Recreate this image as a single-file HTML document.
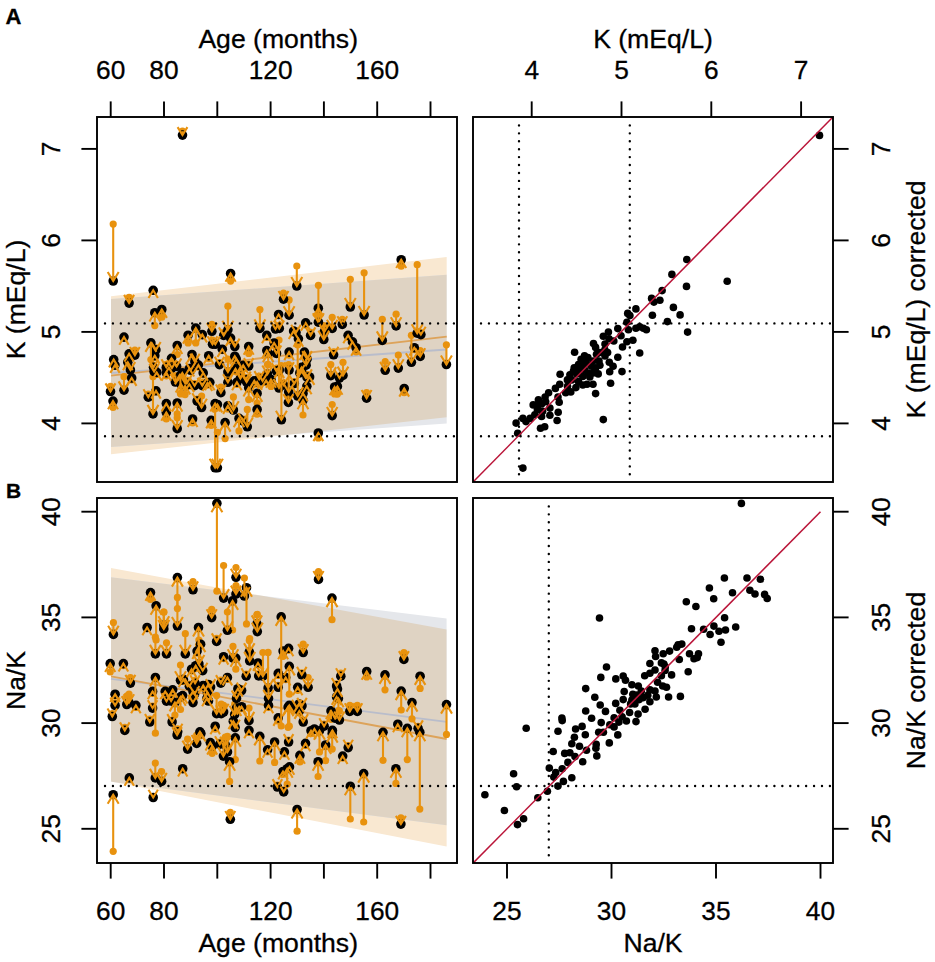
<!DOCTYPE html>
<html><head><meta charset="utf-8"><style>
html,body{margin:0;padding:0;background:#fff;width:935px;height:962px;overflow:hidden}
svg{display:block}
text{font-family:"Liberation Sans",sans-serif;fill:#000;stroke:#000;stroke-width:0.3px}
</style></head><body>
<svg width="935" height="962" viewBox="0 0 935 962"><defs><clipPath id="cAL"><rect x="97" y="117" width="360" height="365"/></clipPath><clipPath id="cAR"><rect x="473" y="117" width="360" height="365"/></clipPath><clipPath id="cBL"><rect x="97" y="498" width="360" height="365"/></clipPath><clipPath id="cBR"><rect x="473" y="498" width="360" height="365"/></clipPath></defs>
<clipPath id="bA"><polygon points="111.0,296.2 446.7,257.1 446.7,417.3 111.0,454.2"/></clipPath><polygon points="111.0,296.2 446.7,257.1 446.7,417.3 111.0,454.2" fill="#F9E8D1"/><polygon points="111.0,298.9 446.7,274.8 446.7,423.4 111.0,447.0" fill="#E5E7EB"/><polygon points="111.0,298.9 446.7,274.8 446.7,423.4 111.0,447.0" fill="#DFD3C3" clip-path="url(#bA)"/><clipPath id="bB"><polygon points="111.0,568.1 446.6,629.5 446.6,846.6 111.0,781.5"/></clipPath><polygon points="111.0,568.1 446.6,629.5 446.6,846.6 111.0,781.5" fill="#F9E8D1"/><polygon points="111.0,577.2 446.6,618.4 446.6,825.2 111.0,781.7" fill="#E5E7EB"/><polygon points="111.0,577.2 446.6,618.4 446.6,825.2 111.0,781.7" fill="#DFD3C3" clip-path="url(#bB)"/><line x1="111.0" y1="373.0" x2="446.7" y2="349.5" stroke="#B9BDCB" stroke-width="1.8"/><line x1="111.0" y1="375.6" x2="446.7" y2="336.7" stroke="#DDA35A" stroke-width="1.8"/><line x1="111.0" y1="678.8" x2="446.6" y2="721.8" stroke="#B9BDCB" stroke-width="1.8"/><line x1="111.0" y1="676.3" x2="446.6" y2="739.0" stroke="#DDA35A" stroke-width="1.8"/><g clip-path="url(#cAL)"><circle cx="182.5" cy="131.2" r="3.6" fill="#E8920E"/><circle cx="113.2" cy="224.1" r="3.6" fill="#E8920E"/><circle cx="230.6" cy="281.1" r="3.6" fill="#E8920E"/><circle cx="296.8" cy="266.0" r="3.6" fill="#E8920E"/><circle cx="401.2" cy="266.2" r="3.6" fill="#E8920E"/><circle cx="318.4" cy="285.3" r="3.6" fill="#E8920E"/><circle cx="350.3" cy="279.3" r="3.6" fill="#E8920E"/><circle cx="364.1" cy="272.8" r="3.6" fill="#E8920E"/><circle cx="417.2" cy="264.7" r="3.6" fill="#E8920E"/><circle cx="129.1" cy="297.3" r="3.6" fill="#E8920E"/><circle cx="153.2" cy="290.8" r="3.6" fill="#E8920E"/><circle cx="154.8" cy="325.6" r="3.6" fill="#E8920E"/><circle cx="161.8" cy="317.2" r="3.6" fill="#E8920E"/><circle cx="124.0" cy="337.6" r="3.6" fill="#E8920E"/><circle cx="150.9" cy="359.6" r="3.6" fill="#E8920E"/><circle cx="154.8" cy="357.7" r="3.6" fill="#E8920E"/><circle cx="153.5" cy="365.3" r="3.6" fill="#E8920E"/><circle cx="156.7" cy="374.4" r="3.6" fill="#E8920E"/><circle cx="113.7" cy="360.6" r="3.6" fill="#E8920E"/><circle cx="129.1" cy="354.8" r="3.6" fill="#E8920E"/><circle cx="134.9" cy="350.0" r="3.6" fill="#E8920E"/><circle cx="127.8" cy="365.2" r="3.6" fill="#E8920E"/><circle cx="130.4" cy="367.9" r="3.6" fill="#E8920E"/><circle cx="177.2" cy="354.5" r="3.6" fill="#E8920E"/><circle cx="188.1" cy="342.9" r="3.6" fill="#E8920E"/><circle cx="195.8" cy="342.9" r="3.6" fill="#E8920E"/><circle cx="202.3" cy="335.6" r="3.6" fill="#E8920E"/><circle cx="211.9" cy="324.3" r="3.6" fill="#E8920E"/><circle cx="171.5" cy="362.3" r="3.6" fill="#E8920E"/><circle cx="192.0" cy="357.5" r="3.6" fill="#E8920E"/><circle cx="208.7" cy="358.7" r="3.6" fill="#E8920E"/><circle cx="166.3" cy="364.3" r="3.6" fill="#E8920E"/><circle cx="189.4" cy="370.6" r="3.6" fill="#E8920E"/><circle cx="212.5" cy="340.2" r="3.6" fill="#E8920E"/><circle cx="110.5" cy="386.3" r="3.6" fill="#E8920E"/><circle cx="113.0" cy="407.5" r="3.6" fill="#E8920E"/><circle cx="124.0" cy="376.7" r="3.6" fill="#E8920E"/><circle cx="131.7" cy="380.0" r="3.6" fill="#E8920E"/><circle cx="115.0" cy="366.1" r="3.6" fill="#E8920E"/><circle cx="154.1" cy="369.6" r="3.6" fill="#E8920E"/><circle cx="156.0" cy="391.8" r="3.6" fill="#E8920E"/><circle cx="153.0" cy="376.7" r="3.6" fill="#E8920E"/><circle cx="148.3" cy="394.2" r="3.6" fill="#E8920E"/><circle cx="166.3" cy="404.6" r="3.6" fill="#E8920E"/><circle cx="166.3" cy="419.0" r="3.6" fill="#E8920E"/><circle cx="177.2" cy="413.9" r="3.6" fill="#E8920E"/><circle cx="177.2" cy="417.8" r="3.6" fill="#E8920E"/><circle cx="192.6" cy="423.0" r="3.6" fill="#E8920E"/><circle cx="201.6" cy="396.0" r="3.6" fill="#E8920E"/><circle cx="197.1" cy="399.1" r="3.6" fill="#E8920E"/><circle cx="211.2" cy="425.5" r="3.6" fill="#E8920E"/><circle cx="215.1" cy="408.8" r="3.6" fill="#E8920E"/><circle cx="215.1" cy="405.6" r="3.6" fill="#E8920E"/><circle cx="168.9" cy="369.7" r="3.6" fill="#E8920E"/><circle cx="176.6" cy="364.4" r="3.6" fill="#E8920E"/><circle cx="180.4" cy="393.4" r="3.6" fill="#E8920E"/><circle cx="186.9" cy="380.1" r="3.6" fill="#E8920E"/><circle cx="194.6" cy="383.7" r="3.6" fill="#E8920E"/><circle cx="202.3" cy="382.7" r="3.6" fill="#E8920E"/><circle cx="207.4" cy="385.1" r="3.6" fill="#E8920E"/><circle cx="190.7" cy="368.3" r="3.6" fill="#E8920E"/><circle cx="198.4" cy="367.1" r="3.6" fill="#E8920E"/><circle cx="166.3" cy="375.8" r="3.6" fill="#E8920E"/><circle cx="227.9" cy="306.2" r="3.6" fill="#E8920E"/><circle cx="259.9" cy="309.6" r="3.6" fill="#E8920E"/><circle cx="283.5" cy="293.0" r="3.6" fill="#E8920E"/><circle cx="289.1" cy="299.9" r="3.6" fill="#E8920E"/><circle cx="278.6" cy="315.5" r="3.6" fill="#E8920E"/><circle cx="279.3" cy="325.4" r="3.6" fill="#E8920E"/><circle cx="318.3" cy="314.5" r="3.6" fill="#E8920E"/><circle cx="305.7" cy="324.9" r="3.6" fill="#E8920E"/><circle cx="310.6" cy="332.4" r="3.6" fill="#E8920E"/><circle cx="332.2" cy="317.3" r="3.6" fill="#E8920E"/><circle cx="323.8" cy="325.6" r="3.6" fill="#E8920E"/><circle cx="248.7" cy="353.4" r="3.6" fill="#E8920E"/><circle cx="266.8" cy="337.4" r="3.6" fill="#E8920E"/><circle cx="268.2" cy="364.6" r="3.6" fill="#E8920E"/><circle cx="276.5" cy="351.4" r="3.6" fill="#E8920E"/><circle cx="289.1" cy="355.1" r="3.6" fill="#E8920E"/><circle cx="296.0" cy="330.6" r="3.6" fill="#E8920E"/><circle cx="304.4" cy="354.1" r="3.6" fill="#E8920E"/><circle cx="234.8" cy="344.5" r="3.6" fill="#E8920E"/><circle cx="234.8" cy="358.2" r="3.6" fill="#E8920E"/><circle cx="223.7" cy="332.4" r="3.6" fill="#E8920E"/><circle cx="230.6" cy="341.1" r="3.6" fill="#E8920E"/><circle cx="219.5" cy="362.6" r="3.6" fill="#E8920E"/><circle cx="240.4" cy="370.4" r="3.6" fill="#E8920E"/><circle cx="248.7" cy="364.0" r="3.6" fill="#E8920E"/><circle cx="333.6" cy="351.8" r="3.6" fill="#E8920E"/><circle cx="279.3" cy="373.1" r="3.6" fill="#E8920E"/><circle cx="289.1" cy="367.1" r="3.6" fill="#E8920E"/><circle cx="301.6" cy="369.4" r="3.6" fill="#E8920E"/><circle cx="307.1" cy="357.0" r="3.6" fill="#E8920E"/><circle cx="227.9" cy="359.0" r="3.6" fill="#E8920E"/><circle cx="330.8" cy="364.6" r="3.6" fill="#E8920E"/><circle cx="217.4" cy="432.3" r="3.6" fill="#E8920E"/><circle cx="318.3" cy="437.9" r="3.6" fill="#E8920E"/><circle cx="281.4" cy="365.6" r="3.6" fill="#E8920E"/><circle cx="303.0" cy="415.0" r="3.6" fill="#E8920E"/><circle cx="288.4" cy="395.5" r="3.6" fill="#E8920E"/><circle cx="257.1" cy="414.2" r="3.6" fill="#E8920E"/><circle cx="257.1" cy="403.1" r="3.6" fill="#E8920E"/><circle cx="248.7" cy="399.6" r="3.6" fill="#E8920E"/><circle cx="225.1" cy="438.6" r="3.6" fill="#E8920E"/><circle cx="217.4" cy="406.5" r="3.6" fill="#E8920E"/><circle cx="227.9" cy="408.9" r="3.6" fill="#E8920E"/><circle cx="220.9" cy="387.1" r="3.6" fill="#E8920E"/><circle cx="247.3" cy="409.4" r="3.6" fill="#E8920E"/><circle cx="239.0" cy="430.9" r="3.6" fill="#E8920E"/><circle cx="233.4" cy="396.9" r="3.6" fill="#E8920E"/><circle cx="243.2" cy="419.2" r="3.6" fill="#E8920E"/><circle cx="303.0" cy="395.4" r="3.6" fill="#E8920E"/><circle cx="307.1" cy="374.4" r="3.6" fill="#E8920E"/><circle cx="301.6" cy="373.1" r="3.6" fill="#E8920E"/><circle cx="283.5" cy="383.0" r="3.6" fill="#E8920E"/><circle cx="271.0" cy="386.4" r="3.6" fill="#E8920E"/><circle cx="262.6" cy="378.9" r="3.6" fill="#E8920E"/><circle cx="254.3" cy="383.9" r="3.6" fill="#E8920E"/><circle cx="245.9" cy="377.5" r="3.6" fill="#E8920E"/><circle cx="236.9" cy="384.3" r="3.6" fill="#E8920E"/><circle cx="227.9" cy="379.3" r="3.6" fill="#E8920E"/><circle cx="276.5" cy="368.1" r="3.6" fill="#E8920E"/><circle cx="332.2" cy="404.5" r="3.6" fill="#E8920E"/><circle cx="209.8" cy="384.3" r="3.6" fill="#E8920E"/><circle cx="420.9" cy="332.6" r="3.6" fill="#E8920E"/><circle cx="342.3" cy="319.3" r="3.6" fill="#E8920E"/><circle cx="382.3" cy="319.3" r="3.6" fill="#E8920E"/><circle cx="396.1" cy="314.2" r="3.6" fill="#E8920E"/><circle cx="348.1" cy="337.3" r="3.6" fill="#E8920E"/><circle cx="356.1" cy="352.0" r="3.6" fill="#E8920E"/><circle cx="352.5" cy="343.9" r="3.6" fill="#E8920E"/><circle cx="385.2" cy="361.5" r="3.6" fill="#E8920E"/><circle cx="398.3" cy="355.0" r="3.6" fill="#E8920E"/><circle cx="411.4" cy="335.3" r="3.6" fill="#E8920E"/><circle cx="414.3" cy="349.7" r="3.6" fill="#E8920E"/><circle cx="420.2" cy="350.6" r="3.6" fill="#E8920E"/><circle cx="446.4" cy="344.8" r="3.6" fill="#E8920E"/><circle cx="343.0" cy="362.3" r="3.6" fill="#E8920E"/><circle cx="366.6" cy="392.7" r="3.6" fill="#E8920E"/><circle cx="404.2" cy="392.7" r="3.6" fill="#E8920E"/><circle cx="337.4" cy="394.1" r="3.6" fill="#E8920E"/><circle cx="339.5" cy="376.1" r="3.6" fill="#E8920E"/><circle cx="215.3" cy="342.0" r="3.6" fill="#E8920E"/><circle cx="222.3" cy="350.6" r="3.6" fill="#E8920E"/><circle cx="236.2" cy="360.9" r="3.6" fill="#E8920E"/><circle cx="266.8" cy="351.6" r="3.6" fill="#E8920E"/><circle cx="267.5" cy="364.5" r="3.6" fill="#E8920E"/><circle cx="235.5" cy="371.7" r="3.6" fill="#E8920E"/><circle cx="243.2" cy="368.2" r="3.6" fill="#E8920E"/><circle cx="240.4" cy="376.4" r="3.6" fill="#E8920E"/><circle cx="259.2" cy="376.1" r="3.6" fill="#E8920E"/><circle cx="266.1" cy="382.5" r="3.6" fill="#E8920E"/><circle cx="293.6" cy="333.1" r="3.6" fill="#E8920E"/><circle cx="275.5" cy="327.0" r="3.6" fill="#E8920E"/><circle cx="274.1" cy="345.0" r="3.6" fill="#E8920E"/><circle cx="298.4" cy="341.8" r="3.6" fill="#E8920E"/><circle cx="306.1" cy="359.0" r="3.6" fill="#E8920E"/><circle cx="299.8" cy="370.9" r="3.6" fill="#E8920E"/><circle cx="309.6" cy="379.0" r="3.6" fill="#E8920E"/><circle cx="279.0" cy="340.0" r="3.6" fill="#E8920E"/><circle cx="288.7" cy="364.5" r="3.6" fill="#E8920E"/><circle cx="297.7" cy="345.0" r="3.6" fill="#E8920E"/><circle cx="324.2" cy="327.0" r="3.6" fill="#E8920E"/><circle cx="155.9" cy="347.9" r="3.6" fill="#E8920E"/><circle cx="171.9" cy="366.0" r="3.6" fill="#E8920E"/><circle cx="182.3" cy="374.9" r="3.6" fill="#E8920E"/><circle cx="175.4" cy="375.6" r="3.6" fill="#E8920E"/><circle cx="194.9" cy="359.7" r="3.6" fill="#E8920E"/><circle cx="203.2" cy="374.9" r="3.6" fill="#E8920E"/><circle cx="180.9" cy="393.9" r="3.6" fill="#E8920E"/><circle cx="185.1" cy="394.6" r="3.6" fill="#E8920E"/><circle cx="189.3" cy="386.2" r="3.6" fill="#E8920E"/><circle cx="246.6" cy="380.1" r="3.6" fill="#E8920E"/><circle cx="257.1" cy="384.1" r="3.6" fill="#E8920E"/><circle cx="294.3" cy="381.5" r="3.6" fill="#E8920E"/><circle cx="306.8" cy="388.3" r="3.6" fill="#E8920E"/><circle cx="334.6" cy="393.9" r="3.6" fill="#E8920E"/><circle cx="182.5" cy="135.1" r="4.8" fill="#000"/><circle cx="113.2" cy="281.0" r="4.8" fill="#000"/><circle cx="230.6" cy="273.5" r="4.8" fill="#000"/><circle cx="296.8" cy="286.0" r="4.8" fill="#000"/><circle cx="401.2" cy="259.7" r="4.8" fill="#000"/><circle cx="318.4" cy="322.2" r="4.8" fill="#000"/><circle cx="350.3" cy="307.0" r="4.8" fill="#000"/><circle cx="364.1" cy="315.0" r="4.8" fill="#000"/><circle cx="417.2" cy="333.2" r="4.8" fill="#000"/><circle cx="129.1" cy="303.1" r="4.8" fill="#000"/><circle cx="153.2" cy="290.3" r="4.8" fill="#000"/><circle cx="154.8" cy="312.7" r="4.8" fill="#000"/><circle cx="161.8" cy="309.5" r="4.8" fill="#000"/><circle cx="124.0" cy="337.1" r="4.8" fill="#000"/><circle cx="150.9" cy="342.9" r="4.8" fill="#000"/><circle cx="154.8" cy="355.7" r="4.8" fill="#000"/><circle cx="153.5" cy="367.3" r="4.8" fill="#000"/><circle cx="156.7" cy="372.4" r="4.8" fill="#000"/><circle cx="113.7" cy="359.6" r="4.8" fill="#000"/><circle cx="129.1" cy="353.8" r="4.8" fill="#000"/><circle cx="134.9" cy="355.1" r="4.8" fill="#000"/><circle cx="127.8" cy="362.2" r="4.8" fill="#000"/><circle cx="130.4" cy="369.9" r="4.8" fill="#000"/><circle cx="177.2" cy="345.5" r="4.8" fill="#000"/><circle cx="188.1" cy="335.2" r="4.8" fill="#000"/><circle cx="195.8" cy="328.1" r="4.8" fill="#000"/><circle cx="202.3" cy="334.6" r="4.8" fill="#000"/><circle cx="211.9" cy="331.3" r="4.8" fill="#000"/><circle cx="171.5" cy="358.3" r="4.8" fill="#000"/><circle cx="192.0" cy="354.5" r="4.8" fill="#000"/><circle cx="208.7" cy="355.7" r="4.8" fill="#000"/><circle cx="166.3" cy="367.3" r="4.8" fill="#000"/><circle cx="189.4" cy="368.6" r="4.8" fill="#000"/><circle cx="212.5" cy="344.2" r="4.8" fill="#000"/><circle cx="110.5" cy="391.5" r="4.8" fill="#000"/><circle cx="113.0" cy="401.1" r="4.8" fill="#000"/><circle cx="124.0" cy="390.2" r="4.8" fill="#000"/><circle cx="131.7" cy="378.0" r="4.8" fill="#000"/><circle cx="115.0" cy="365.1" r="4.8" fill="#000"/><circle cx="154.1" cy="371.6" r="4.8" fill="#000"/><circle cx="156.0" cy="390.8" r="4.8" fill="#000"/><circle cx="153.0" cy="413.9" r="4.8" fill="#000"/><circle cx="148.3" cy="397.2" r="4.8" fill="#000"/><circle cx="166.3" cy="403.6" r="4.8" fill="#000"/><circle cx="166.3" cy="412.6" r="4.8" fill="#000"/><circle cx="177.2" cy="403.0" r="4.8" fill="#000"/><circle cx="177.2" cy="428.7" r="4.8" fill="#000"/><circle cx="192.6" cy="419.0" r="4.8" fill="#000"/><circle cx="201.6" cy="407.5" r="4.8" fill="#000"/><circle cx="197.1" cy="401.1" r="4.8" fill="#000"/><circle cx="211.2" cy="420.3" r="4.8" fill="#000"/><circle cx="215.1" cy="467.8" r="4.8" fill="#000"/><circle cx="215.1" cy="403.6" r="4.8" fill="#000"/><circle cx="168.9" cy="367.7" r="4.8" fill="#000"/><circle cx="176.6" cy="366.4" r="4.8" fill="#000"/><circle cx="180.4" cy="375.4" r="4.8" fill="#000"/><circle cx="186.9" cy="383.1" r="4.8" fill="#000"/><circle cx="194.6" cy="385.7" r="4.8" fill="#000"/><circle cx="202.3" cy="385.7" r="4.8" fill="#000"/><circle cx="207.4" cy="383.1" r="4.8" fill="#000"/><circle cx="190.7" cy="370.3" r="4.8" fill="#000"/><circle cx="198.4" cy="365.1" r="4.8" fill="#000"/><circle cx="166.3" cy="372.8" r="4.8" fill="#000"/><circle cx="227.9" cy="329.8" r="4.8" fill="#000"/><circle cx="259.9" cy="328.4" r="4.8" fill="#000"/><circle cx="283.5" cy="299.2" r="4.8" fill="#000"/><circle cx="289.1" cy="315.2" r="4.8" fill="#000"/><circle cx="278.6" cy="314.5" r="4.8" fill="#000"/><circle cx="279.3" cy="328.4" r="4.8" fill="#000"/><circle cx="318.3" cy="308.2" r="4.8" fill="#000"/><circle cx="305.7" cy="322.9" r="4.8" fill="#000"/><circle cx="310.6" cy="335.4" r="4.8" fill="#000"/><circle cx="332.2" cy="328.4" r="4.8" fill="#000"/><circle cx="323.8" cy="339.5" r="4.8" fill="#000"/><circle cx="248.7" cy="346.5" r="4.8" fill="#000"/><circle cx="266.8" cy="335.4" r="4.8" fill="#000"/><circle cx="268.2" cy="353.4" r="4.8" fill="#000"/><circle cx="276.5" cy="353.4" r="4.8" fill="#000"/><circle cx="289.1" cy="352.1" r="4.8" fill="#000"/><circle cx="296.0" cy="332.6" r="4.8" fill="#000"/><circle cx="304.4" cy="352.1" r="4.8" fill="#000"/><circle cx="234.8" cy="346.5" r="4.8" fill="#000"/><circle cx="234.8" cy="356.2" r="4.8" fill="#000"/><circle cx="223.7" cy="335.4" r="4.8" fill="#000"/><circle cx="230.6" cy="338.1" r="4.8" fill="#000"/><circle cx="219.5" cy="364.6" r="4.8" fill="#000"/><circle cx="240.4" cy="367.4" r="4.8" fill="#000"/><circle cx="248.7" cy="366.0" r="4.8" fill="#000"/><circle cx="333.6" cy="354.8" r="4.8" fill="#000"/><circle cx="279.3" cy="370.1" r="4.8" fill="#000"/><circle cx="289.1" cy="370.1" r="4.8" fill="#000"/><circle cx="301.6" cy="367.4" r="4.8" fill="#000"/><circle cx="307.1" cy="359.0" r="4.8" fill="#000"/><circle cx="227.9" cy="372.0" r="4.8" fill="#000"/><circle cx="330.8" cy="375.7" r="4.8" fill="#000"/><circle cx="217.4" cy="467.8" r="4.8" fill="#000"/><circle cx="318.3" cy="433.0" r="4.8" fill="#000"/><circle cx="281.4" cy="419.8" r="4.8" fill="#000"/><circle cx="303.0" cy="400.3" r="4.8" fill="#000"/><circle cx="288.4" cy="402.4" r="4.8" fill="#000"/><circle cx="257.1" cy="409.4" r="4.8" fill="#000"/><circle cx="257.1" cy="393.4" r="4.8" fill="#000"/><circle cx="248.7" cy="387.8" r="4.8" fill="#000"/><circle cx="225.1" cy="422.6" r="4.8" fill="#000"/><circle cx="217.4" cy="404.5" r="4.8" fill="#000"/><circle cx="227.9" cy="405.9" r="4.8" fill="#000"/><circle cx="220.9" cy="392.7" r="4.8" fill="#000"/><circle cx="247.3" cy="426.8" r="4.8" fill="#000"/><circle cx="239.0" cy="418.4" r="4.8" fill="#000"/><circle cx="233.4" cy="410.0" r="4.8" fill="#000"/><circle cx="243.2" cy="421.2" r="4.8" fill="#000"/><circle cx="303.0" cy="393.4" r="4.8" fill="#000"/><circle cx="307.1" cy="377.4" r="4.8" fill="#000"/><circle cx="301.6" cy="371.1" r="4.8" fill="#000"/><circle cx="283.5" cy="385.0" r="4.8" fill="#000"/><circle cx="271.0" cy="379.5" r="4.8" fill="#000"/><circle cx="262.6" cy="380.9" r="4.8" fill="#000"/><circle cx="254.3" cy="380.9" r="4.8" fill="#000"/><circle cx="245.9" cy="379.5" r="4.8" fill="#000"/><circle cx="236.9" cy="382.3" r="4.8" fill="#000"/><circle cx="227.9" cy="382.3" r="4.8" fill="#000"/><circle cx="276.5" cy="371.1" r="4.8" fill="#000"/><circle cx="332.2" cy="415.6" r="4.8" fill="#000"/><circle cx="209.8" cy="382.3" r="4.8" fill="#000"/><circle cx="420.9" cy="334.6" r="4.8" fill="#000"/><circle cx="342.3" cy="324.4" r="4.8" fill="#000"/><circle cx="382.3" cy="340.4" r="4.8" fill="#000"/><circle cx="396.1" cy="325.9" r="4.8" fill="#000"/><circle cx="348.1" cy="335.3" r="4.8" fill="#000"/><circle cx="356.1" cy="347.7" r="4.8" fill="#000"/><circle cx="352.5" cy="341.9" r="4.8" fill="#000"/><circle cx="385.2" cy="370.3" r="4.8" fill="#000"/><circle cx="398.3" cy="368.1" r="4.8" fill="#000"/><circle cx="411.4" cy="362.3" r="4.8" fill="#000"/><circle cx="414.3" cy="347.7" r="4.8" fill="#000"/><circle cx="420.2" cy="356.4" r="4.8" fill="#000"/><circle cx="446.4" cy="364.5" r="4.8" fill="#000"/><circle cx="343.0" cy="375.4" r="4.8" fill="#000"/><circle cx="366.6" cy="398.2" r="4.8" fill="#000"/><circle cx="404.2" cy="388.5" r="4.8" fill="#000"/><circle cx="337.4" cy="386.4" r="4.8" fill="#000"/><circle cx="339.5" cy="378.1" r="4.8" fill="#000"/><circle cx="215.3" cy="344.3" r="4.8" fill="#000"/><circle cx="222.3" cy="349.2" r="4.8" fill="#000"/><circle cx="236.2" cy="358.9" r="4.8" fill="#000"/><circle cx="266.8" cy="350.6" r="4.8" fill="#000"/><circle cx="267.5" cy="374.0" r="4.8" fill="#000"/><circle cx="235.5" cy="368.7" r="4.8" fill="#000"/><circle cx="243.2" cy="365.2" r="4.8" fill="#000"/><circle cx="240.4" cy="378.4" r="4.8" fill="#000"/><circle cx="259.2" cy="379.1" r="4.8" fill="#000"/><circle cx="266.1" cy="380.5" r="4.8" fill="#000"/><circle cx="293.6" cy="331.1" r="4.8" fill="#000"/><circle cx="275.5" cy="329.0" r="4.8" fill="#000"/><circle cx="274.1" cy="343.0" r="4.8" fill="#000"/><circle cx="298.4" cy="338.8" r="4.8" fill="#000"/><circle cx="306.1" cy="365.2" r="4.8" fill="#000"/><circle cx="299.8" cy="372.9" r="4.8" fill="#000"/><circle cx="309.6" cy="377.0" r="4.8" fill="#000"/><circle cx="279.0" cy="388.0" r="4.8" fill="#000"/><circle cx="288.7" cy="392.0" r="4.8" fill="#000"/><circle cx="297.7" cy="396.0" r="4.8" fill="#000"/><circle cx="324.2" cy="332.0" r="4.8" fill="#000"/><circle cx="155.9" cy="349.9" r="4.8" fill="#000"/><circle cx="171.9" cy="368.0" r="4.8" fill="#000"/><circle cx="182.3" cy="372.9" r="4.8" fill="#000"/><circle cx="175.4" cy="382.0" r="4.8" fill="#000"/><circle cx="194.9" cy="361.7" r="4.8" fill="#000"/><circle cx="203.2" cy="372.9" r="4.8" fill="#000"/><circle cx="180.9" cy="384.0" r="4.8" fill="#000"/><circle cx="185.1" cy="386.0" r="4.8" fill="#000"/><circle cx="189.3" cy="384.2" r="4.8" fill="#000"/><circle cx="246.6" cy="382.1" r="4.8" fill="#000"/><circle cx="257.1" cy="382.1" r="4.8" fill="#000"/><circle cx="294.3" cy="383.5" r="4.8" fill="#000"/><circle cx="306.8" cy="386.3" r="4.8" fill="#000"/><circle cx="334.6" cy="387.0" r="4.8" fill="#000"/><line x1="182.5" y1="131.2" x2="182.5" y2="135.1" stroke="#E8920E" stroke-width="2.1"/><polyline points="177.6,127.1 182.5,135.1 187.4,127.1" fill="none" stroke="#E8920E" stroke-width="2.1" stroke-linejoin="miter"/><line x1="113.2" y1="224.1" x2="113.2" y2="281.0" stroke="#E8920E" stroke-width="2.1"/><polyline points="107.7,272.0 113.2,281.0 118.7,272.0" fill="none" stroke="#E8920E" stroke-width="2.1" stroke-linejoin="miter"/><line x1="230.6" y1="281.1" x2="230.6" y2="273.5" stroke="#E8920E" stroke-width="2.1"/><polyline points="225.5,281.8 230.6,273.5 235.7,281.8" fill="none" stroke="#E8920E" stroke-width="2.1" stroke-linejoin="miter"/><line x1="296.8" y1="266.0" x2="296.8" y2="286.0" stroke="#E8920E" stroke-width="2.1"/><polyline points="291.3,277.0 296.8,286.0 302.3,277.0" fill="none" stroke="#E8920E" stroke-width="2.1" stroke-linejoin="miter"/><line x1="401.2" y1="266.2" x2="401.2" y2="259.7" stroke="#E8920E" stroke-width="2.1"/><polyline points="396.2,268.0 401.2,259.7 406.2,268.0" fill="none" stroke="#E8920E" stroke-width="2.1" stroke-linejoin="miter"/><line x1="318.4" y1="285.3" x2="318.4" y2="322.2" stroke="#E8920E" stroke-width="2.1"/><polyline points="312.9,313.2 318.4,322.2 323.9,313.2" fill="none" stroke="#E8920E" stroke-width="2.1" stroke-linejoin="miter"/><line x1="350.3" y1="279.3" x2="350.3" y2="307.0" stroke="#E8920E" stroke-width="2.1"/><polyline points="344.8,298.0 350.3,307.0 355.8,298.0" fill="none" stroke="#E8920E" stroke-width="2.1" stroke-linejoin="miter"/><line x1="364.1" y1="272.8" x2="364.1" y2="315.0" stroke="#E8920E" stroke-width="2.1"/><polyline points="358.6,306.0 364.1,315.0 369.6,306.0" fill="none" stroke="#E8920E" stroke-width="2.1" stroke-linejoin="miter"/><line x1="417.2" y1="264.7" x2="417.2" y2="333.2" stroke="#E8920E" stroke-width="2.1"/><polyline points="411.7,324.2 417.2,333.2 422.7,324.2" fill="none" stroke="#E8920E" stroke-width="2.1" stroke-linejoin="miter"/><line x1="129.1" y1="297.3" x2="129.1" y2="303.1" stroke="#E8920E" stroke-width="2.1"/><polyline points="124.1,294.9 129.1,303.1 134.1,294.9" fill="none" stroke="#E8920E" stroke-width="2.1" stroke-linejoin="miter"/><polyline points="148.5,298.0 153.2,290.3 157.9,298.0" fill="none" stroke="#E8920E" stroke-width="2.1" stroke-linejoin="miter"/><line x1="154.8" y1="325.6" x2="154.8" y2="312.7" stroke="#E8920E" stroke-width="2.1"/><polyline points="149.4,321.5 154.8,312.7 160.2,321.5" fill="none" stroke="#E8920E" stroke-width="2.1" stroke-linejoin="miter"/><line x1="161.8" y1="317.2" x2="161.8" y2="309.5" stroke="#E8920E" stroke-width="2.1"/><polyline points="156.7,317.9 161.8,309.5 166.9,317.9" fill="none" stroke="#E8920E" stroke-width="2.1" stroke-linejoin="miter"/><polyline points="119.3,344.8 124.0,337.1 128.7,344.8" fill="none" stroke="#E8920E" stroke-width="2.1" stroke-linejoin="miter"/><line x1="150.9" y1="359.6" x2="150.9" y2="342.9" stroke="#E8920E" stroke-width="2.1"/><polyline points="145.4,351.9 150.9,342.9 156.4,351.9" fill="none" stroke="#E8920E" stroke-width="2.1" stroke-linejoin="miter"/><line x1="154.8" y1="357.7" x2="154.8" y2="355.7" stroke="#E8920E" stroke-width="2.1"/><polyline points="150.0,363.6 154.8,355.7 159.6,363.6" fill="none" stroke="#E8920E" stroke-width="2.1" stroke-linejoin="miter"/><line x1="153.5" y1="365.3" x2="153.5" y2="367.3" stroke="#E8920E" stroke-width="2.1"/><polyline points="148.7,359.4 153.5,367.3 158.3,359.4" fill="none" stroke="#E8920E" stroke-width="2.1" stroke-linejoin="miter"/><line x1="156.7" y1="374.4" x2="156.7" y2="372.4" stroke="#E8920E" stroke-width="2.1"/><polyline points="151.9,380.3 156.7,372.4 161.5,380.3" fill="none" stroke="#E8920E" stroke-width="2.1" stroke-linejoin="miter"/><line x1="113.7" y1="360.6" x2="113.7" y2="359.6" stroke="#E8920E" stroke-width="2.1"/><polyline points="109.0,367.4 113.7,359.6 118.4,367.4" fill="none" stroke="#E8920E" stroke-width="2.1" stroke-linejoin="miter"/><line x1="129.1" y1="354.8" x2="129.1" y2="353.8" stroke="#E8920E" stroke-width="2.1"/><polyline points="124.4,361.6 129.1,353.8 133.8,361.6" fill="none" stroke="#E8920E" stroke-width="2.1" stroke-linejoin="miter"/><line x1="134.9" y1="350.0" x2="134.9" y2="355.1" stroke="#E8920E" stroke-width="2.1"/><polyline points="130.0,347.0 134.9,355.1 139.8,347.0" fill="none" stroke="#E8920E" stroke-width="2.1" stroke-linejoin="miter"/><line x1="127.8" y1="365.2" x2="127.8" y2="362.2" stroke="#E8920E" stroke-width="2.1"/><polyline points="123.0,370.2 127.8,362.2 132.6,370.2" fill="none" stroke="#E8920E" stroke-width="2.1" stroke-linejoin="miter"/><line x1="130.4" y1="367.9" x2="130.4" y2="369.9" stroke="#E8920E" stroke-width="2.1"/><polyline points="125.6,362.0 130.4,369.9 135.2,362.0" fill="none" stroke="#E8920E" stroke-width="2.1" stroke-linejoin="miter"/><line x1="177.2" y1="354.5" x2="177.2" y2="345.5" stroke="#E8920E" stroke-width="2.1"/><polyline points="172.1,354.0 177.2,345.5 182.3,354.0" fill="none" stroke="#E8920E" stroke-width="2.1" stroke-linejoin="miter"/><line x1="188.1" y1="342.9" x2="188.1" y2="335.2" stroke="#E8920E" stroke-width="2.1"/><polyline points="183.0,343.6 188.1,335.2 193.2,343.6" fill="none" stroke="#E8920E" stroke-width="2.1" stroke-linejoin="miter"/><line x1="195.8" y1="342.9" x2="195.8" y2="328.1" stroke="#E8920E" stroke-width="2.1"/><polyline points="190.4,337.1 195.8,328.1 201.2,337.1" fill="none" stroke="#E8920E" stroke-width="2.1" stroke-linejoin="miter"/><line x1="202.3" y1="335.6" x2="202.3" y2="334.6" stroke="#E8920E" stroke-width="2.1"/><polyline points="197.6,342.4 202.3,334.6 207.0,342.4" fill="none" stroke="#E8920E" stroke-width="2.1" stroke-linejoin="miter"/><line x1="211.9" y1="324.3" x2="211.9" y2="331.3" stroke="#E8920E" stroke-width="2.1"/><polyline points="206.9,323.0 211.9,331.3 216.9,323.0" fill="none" stroke="#E8920E" stroke-width="2.1" stroke-linejoin="miter"/><line x1="171.5" y1="362.3" x2="171.5" y2="358.3" stroke="#E8920E" stroke-width="2.1"/><polyline points="166.6,366.3 171.5,358.3 176.4,366.3" fill="none" stroke="#E8920E" stroke-width="2.1" stroke-linejoin="miter"/><line x1="192.0" y1="357.5" x2="192.0" y2="354.5" stroke="#E8920E" stroke-width="2.1"/><polyline points="187.2,362.5 192.0,354.5 196.8,362.5" fill="none" stroke="#E8920E" stroke-width="2.1" stroke-linejoin="miter"/><line x1="208.7" y1="358.7" x2="208.7" y2="355.7" stroke="#E8920E" stroke-width="2.1"/><polyline points="203.9,363.7 208.7,355.7 213.5,363.7" fill="none" stroke="#E8920E" stroke-width="2.1" stroke-linejoin="miter"/><line x1="166.3" y1="364.3" x2="166.3" y2="367.3" stroke="#E8920E" stroke-width="2.1"/><polyline points="161.5,359.3 166.3,367.3 171.1,359.3" fill="none" stroke="#E8920E" stroke-width="2.1" stroke-linejoin="miter"/><line x1="189.4" y1="370.6" x2="189.4" y2="368.6" stroke="#E8920E" stroke-width="2.1"/><polyline points="184.6,376.5 189.4,368.6 194.2,376.5" fill="none" stroke="#E8920E" stroke-width="2.1" stroke-linejoin="miter"/><line x1="212.5" y1="340.2" x2="212.5" y2="344.2" stroke="#E8920E" stroke-width="2.1"/><polyline points="207.6,336.2 212.5,344.2 217.4,336.2" fill="none" stroke="#E8920E" stroke-width="2.1" stroke-linejoin="miter"/><line x1="110.5" y1="386.3" x2="110.5" y2="391.5" stroke="#E8920E" stroke-width="2.1"/><polyline points="105.5,383.4 110.5,391.5 115.5,383.4" fill="none" stroke="#E8920E" stroke-width="2.1" stroke-linejoin="miter"/><line x1="113.0" y1="407.5" x2="113.0" y2="401.1" stroke="#E8920E" stroke-width="2.1"/><polyline points="108.0,409.3 113.0,401.1 118.0,409.3" fill="none" stroke="#E8920E" stroke-width="2.1" stroke-linejoin="miter"/><line x1="124.0" y1="376.7" x2="124.0" y2="390.2" stroke="#E8920E" stroke-width="2.1"/><polyline points="118.6,381.4 124.0,390.2 129.4,381.4" fill="none" stroke="#E8920E" stroke-width="2.1" stroke-linejoin="miter"/><line x1="131.7" y1="380.0" x2="131.7" y2="378.0" stroke="#E8920E" stroke-width="2.1"/><polyline points="126.9,385.9 131.7,378.0 136.5,385.9" fill="none" stroke="#E8920E" stroke-width="2.1" stroke-linejoin="miter"/><line x1="115.0" y1="366.1" x2="115.0" y2="365.1" stroke="#E8920E" stroke-width="2.1"/><polyline points="110.3,372.9 115.0,365.1 119.7,372.9" fill="none" stroke="#E8920E" stroke-width="2.1" stroke-linejoin="miter"/><line x1="154.1" y1="369.6" x2="154.1" y2="371.6" stroke="#E8920E" stroke-width="2.1"/><polyline points="149.3,363.7 154.1,371.6 158.9,363.7" fill="none" stroke="#E8920E" stroke-width="2.1" stroke-linejoin="miter"/><line x1="156.0" y1="391.8" x2="156.0" y2="390.8" stroke="#E8920E" stroke-width="2.1"/><polyline points="151.3,398.6 156.0,390.8 160.7,398.6" fill="none" stroke="#E8920E" stroke-width="2.1" stroke-linejoin="miter"/><line x1="153.0" y1="376.7" x2="153.0" y2="413.9" stroke="#E8920E" stroke-width="2.1"/><polyline points="147.5,404.9 153.0,413.9 158.5,404.9" fill="none" stroke="#E8920E" stroke-width="2.1" stroke-linejoin="miter"/><line x1="148.3" y1="394.2" x2="148.3" y2="397.2" stroke="#E8920E" stroke-width="2.1"/><polyline points="143.5,389.2 148.3,397.2 153.1,389.2" fill="none" stroke="#E8920E" stroke-width="2.1" stroke-linejoin="miter"/><line x1="166.3" y1="404.6" x2="166.3" y2="403.6" stroke="#E8920E" stroke-width="2.1"/><polyline points="161.6,411.4 166.3,403.6 171.0,411.4" fill="none" stroke="#E8920E" stroke-width="2.1" stroke-linejoin="miter"/><line x1="166.3" y1="419.0" x2="166.3" y2="412.6" stroke="#E8920E" stroke-width="2.1"/><polyline points="161.3,420.8 166.3,412.6 171.3,420.8" fill="none" stroke="#E8920E" stroke-width="2.1" stroke-linejoin="miter"/><line x1="177.2" y1="413.9" x2="177.2" y2="403.0" stroke="#E8920E" stroke-width="2.1"/><polyline points="172.0,411.6 177.2,403.0 182.4,411.6" fill="none" stroke="#E8920E" stroke-width="2.1" stroke-linejoin="miter"/><line x1="177.2" y1="417.8" x2="177.2" y2="428.7" stroke="#E8920E" stroke-width="2.1"/><polyline points="172.0,420.1 177.2,428.7 182.4,420.1" fill="none" stroke="#E8920E" stroke-width="2.1" stroke-linejoin="miter"/><line x1="192.6" y1="423.0" x2="192.6" y2="419.0" stroke="#E8920E" stroke-width="2.1"/><polyline points="187.7,427.0 192.6,419.0 197.5,427.0" fill="none" stroke="#E8920E" stroke-width="2.1" stroke-linejoin="miter"/><line x1="201.6" y1="396.0" x2="201.6" y2="407.5" stroke="#E8920E" stroke-width="2.1"/><polyline points="196.3,398.8 201.6,407.5 206.9,398.8" fill="none" stroke="#E8920E" stroke-width="2.1" stroke-linejoin="miter"/><line x1="197.1" y1="399.1" x2="197.1" y2="401.1" stroke="#E8920E" stroke-width="2.1"/><polyline points="192.3,393.2 197.1,401.1 201.9,393.2" fill="none" stroke="#E8920E" stroke-width="2.1" stroke-linejoin="miter"/><line x1="211.2" y1="425.5" x2="211.2" y2="420.3" stroke="#E8920E" stroke-width="2.1"/><polyline points="206.2,428.4 211.2,420.3 216.2,428.4" fill="none" stroke="#E8920E" stroke-width="2.1" stroke-linejoin="miter"/><line x1="215.1" y1="408.8" x2="215.1" y2="467.8" stroke="#E8920E" stroke-width="2.1"/><polyline points="209.6,458.8 215.1,467.8 220.6,458.8" fill="none" stroke="#E8920E" stroke-width="2.1" stroke-linejoin="miter"/><line x1="215.1" y1="405.6" x2="215.1" y2="403.6" stroke="#E8920E" stroke-width="2.1"/><polyline points="210.3,411.5 215.1,403.6 219.9,411.5" fill="none" stroke="#E8920E" stroke-width="2.1" stroke-linejoin="miter"/><line x1="168.9" y1="369.7" x2="168.9" y2="367.7" stroke="#E8920E" stroke-width="2.1"/><polyline points="164.1,375.6 168.9,367.7 173.7,375.6" fill="none" stroke="#E8920E" stroke-width="2.1" stroke-linejoin="miter"/><line x1="176.6" y1="364.4" x2="176.6" y2="366.4" stroke="#E8920E" stroke-width="2.1"/><polyline points="171.8,358.5 176.6,366.4 181.4,358.5" fill="none" stroke="#E8920E" stroke-width="2.1" stroke-linejoin="miter"/><line x1="180.4" y1="393.4" x2="180.4" y2="375.4" stroke="#E8920E" stroke-width="2.1"/><polyline points="174.9,384.4 180.4,375.4 185.9,384.4" fill="none" stroke="#E8920E" stroke-width="2.1" stroke-linejoin="miter"/><line x1="186.9" y1="380.1" x2="186.9" y2="383.1" stroke="#E8920E" stroke-width="2.1"/><polyline points="182.1,375.1 186.9,383.1 191.7,375.1" fill="none" stroke="#E8920E" stroke-width="2.1" stroke-linejoin="miter"/><line x1="194.6" y1="383.7" x2="194.6" y2="385.7" stroke="#E8920E" stroke-width="2.1"/><polyline points="189.8,377.8 194.6,385.7 199.4,377.8" fill="none" stroke="#E8920E" stroke-width="2.1" stroke-linejoin="miter"/><line x1="202.3" y1="382.7" x2="202.3" y2="385.7" stroke="#E8920E" stroke-width="2.1"/><polyline points="197.5,377.7 202.3,385.7 207.1,377.7" fill="none" stroke="#E8920E" stroke-width="2.1" stroke-linejoin="miter"/><line x1="207.4" y1="385.1" x2="207.4" y2="383.1" stroke="#E8920E" stroke-width="2.1"/><polyline points="202.6,391.0 207.4,383.1 212.2,391.0" fill="none" stroke="#E8920E" stroke-width="2.1" stroke-linejoin="miter"/><line x1="190.7" y1="368.3" x2="190.7" y2="370.3" stroke="#E8920E" stroke-width="2.1"/><polyline points="185.9,362.4 190.7,370.3 195.5,362.4" fill="none" stroke="#E8920E" stroke-width="2.1" stroke-linejoin="miter"/><line x1="198.4" y1="367.1" x2="198.4" y2="365.1" stroke="#E8920E" stroke-width="2.1"/><polyline points="193.6,373.0 198.4,365.1 203.2,373.0" fill="none" stroke="#E8920E" stroke-width="2.1" stroke-linejoin="miter"/><line x1="166.3" y1="375.8" x2="166.3" y2="372.8" stroke="#E8920E" stroke-width="2.1"/><polyline points="161.5,380.8 166.3,372.8 171.1,380.8" fill="none" stroke="#E8920E" stroke-width="2.1" stroke-linejoin="miter"/><line x1="227.9" y1="306.2" x2="227.9" y2="329.8" stroke="#E8920E" stroke-width="2.1"/><polyline points="222.4,320.8 227.9,329.8 233.4,320.8" fill="none" stroke="#E8920E" stroke-width="2.1" stroke-linejoin="miter"/><line x1="259.9" y1="309.6" x2="259.9" y2="328.4" stroke="#E8920E" stroke-width="2.1"/><polyline points="254.4,319.4 259.9,328.4 265.4,319.4" fill="none" stroke="#E8920E" stroke-width="2.1" stroke-linejoin="miter"/><line x1="283.5" y1="293.0" x2="283.5" y2="299.2" stroke="#E8920E" stroke-width="2.1"/><polyline points="278.5,291.0 283.5,299.2 288.5,291.0" fill="none" stroke="#E8920E" stroke-width="2.1" stroke-linejoin="miter"/><line x1="289.1" y1="299.9" x2="289.1" y2="315.2" stroke="#E8920E" stroke-width="2.1"/><polyline points="283.6,306.2 289.1,315.2 294.6,306.2" fill="none" stroke="#E8920E" stroke-width="2.1" stroke-linejoin="miter"/><line x1="278.6" y1="315.5" x2="278.6" y2="314.5" stroke="#E8920E" stroke-width="2.1"/><polyline points="273.9,322.3 278.6,314.5 283.3,322.3" fill="none" stroke="#E8920E" stroke-width="2.1" stroke-linejoin="miter"/><line x1="279.3" y1="325.4" x2="279.3" y2="328.4" stroke="#E8920E" stroke-width="2.1"/><polyline points="274.5,320.4 279.3,328.4 284.1,320.4" fill="none" stroke="#E8920E" stroke-width="2.1" stroke-linejoin="miter"/><line x1="318.3" y1="314.5" x2="318.3" y2="308.2" stroke="#E8920E" stroke-width="2.1"/><polyline points="313.3,316.4 318.3,308.2 323.3,316.4" fill="none" stroke="#E8920E" stroke-width="2.1" stroke-linejoin="miter"/><line x1="305.7" y1="324.9" x2="305.7" y2="322.9" stroke="#E8920E" stroke-width="2.1"/><polyline points="300.9,330.8 305.7,322.9 310.5,330.8" fill="none" stroke="#E8920E" stroke-width="2.1" stroke-linejoin="miter"/><line x1="310.6" y1="332.4" x2="310.6" y2="335.4" stroke="#E8920E" stroke-width="2.1"/><polyline points="305.8,327.4 310.6,335.4 315.4,327.4" fill="none" stroke="#E8920E" stroke-width="2.1" stroke-linejoin="miter"/><line x1="332.2" y1="317.3" x2="332.2" y2="328.4" stroke="#E8920E" stroke-width="2.1"/><polyline points="326.9,319.8 332.2,328.4 337.5,319.8" fill="none" stroke="#E8920E" stroke-width="2.1" stroke-linejoin="miter"/><line x1="323.8" y1="325.6" x2="323.8" y2="339.5" stroke="#E8920E" stroke-width="2.1"/><polyline points="318.4,330.6 323.8,339.5 329.2,330.6" fill="none" stroke="#E8920E" stroke-width="2.1" stroke-linejoin="miter"/><line x1="248.7" y1="353.4" x2="248.7" y2="346.5" stroke="#E8920E" stroke-width="2.1"/><polyline points="243.7,354.8 248.7,346.5 253.7,354.8" fill="none" stroke="#E8920E" stroke-width="2.1" stroke-linejoin="miter"/><line x1="266.8" y1="337.4" x2="266.8" y2="335.4" stroke="#E8920E" stroke-width="2.1"/><polyline points="262.0,343.3 266.8,335.4 271.6,343.3" fill="none" stroke="#E8920E" stroke-width="2.1" stroke-linejoin="miter"/><line x1="268.2" y1="364.6" x2="268.2" y2="353.4" stroke="#E8920E" stroke-width="2.1"/><polyline points="262.9,362.1 268.2,353.4 273.5,362.1" fill="none" stroke="#E8920E" stroke-width="2.1" stroke-linejoin="miter"/><line x1="276.5" y1="351.4" x2="276.5" y2="353.4" stroke="#E8920E" stroke-width="2.1"/><polyline points="271.7,345.5 276.5,353.4 281.3,345.5" fill="none" stroke="#E8920E" stroke-width="2.1" stroke-linejoin="miter"/><line x1="289.1" y1="355.1" x2="289.1" y2="352.1" stroke="#E8920E" stroke-width="2.1"/><polyline points="284.3,360.1 289.1,352.1 293.9,360.1" fill="none" stroke="#E8920E" stroke-width="2.1" stroke-linejoin="miter"/><line x1="296.0" y1="330.6" x2="296.0" y2="332.6" stroke="#E8920E" stroke-width="2.1"/><polyline points="291.2,324.7 296.0,332.6 300.8,324.7" fill="none" stroke="#E8920E" stroke-width="2.1" stroke-linejoin="miter"/><line x1="304.4" y1="354.1" x2="304.4" y2="352.1" stroke="#E8920E" stroke-width="2.1"/><polyline points="299.6,360.0 304.4,352.1 309.2,360.0" fill="none" stroke="#E8920E" stroke-width="2.1" stroke-linejoin="miter"/><line x1="234.8" y1="344.5" x2="234.8" y2="346.5" stroke="#E8920E" stroke-width="2.1"/><polyline points="230.0,338.6 234.8,346.5 239.6,338.6" fill="none" stroke="#E8920E" stroke-width="2.1" stroke-linejoin="miter"/><line x1="234.8" y1="358.2" x2="234.8" y2="356.2" stroke="#E8920E" stroke-width="2.1"/><polyline points="230.0,364.1 234.8,356.2 239.6,364.1" fill="none" stroke="#E8920E" stroke-width="2.1" stroke-linejoin="miter"/><line x1="223.7" y1="332.4" x2="223.7" y2="335.4" stroke="#E8920E" stroke-width="2.1"/><polyline points="218.9,327.4 223.7,335.4 228.5,327.4" fill="none" stroke="#E8920E" stroke-width="2.1" stroke-linejoin="miter"/><line x1="230.6" y1="341.1" x2="230.6" y2="338.1" stroke="#E8920E" stroke-width="2.1"/><polyline points="225.8,346.1 230.6,338.1 235.4,346.1" fill="none" stroke="#E8920E" stroke-width="2.1" stroke-linejoin="miter"/><line x1="219.5" y1="362.6" x2="219.5" y2="364.6" stroke="#E8920E" stroke-width="2.1"/><polyline points="214.7,356.7 219.5,364.6 224.3,356.7" fill="none" stroke="#E8920E" stroke-width="2.1" stroke-linejoin="miter"/><line x1="240.4" y1="370.4" x2="240.4" y2="367.4" stroke="#E8920E" stroke-width="2.1"/><polyline points="235.6,375.4 240.4,367.4 245.2,375.4" fill="none" stroke="#E8920E" stroke-width="2.1" stroke-linejoin="miter"/><line x1="248.7" y1="364.0" x2="248.7" y2="366.0" stroke="#E8920E" stroke-width="2.1"/><polyline points="243.9,358.1 248.7,366.0 253.5,358.1" fill="none" stroke="#E8920E" stroke-width="2.1" stroke-linejoin="miter"/><line x1="333.6" y1="351.8" x2="333.6" y2="354.8" stroke="#E8920E" stroke-width="2.1"/><polyline points="328.8,346.8 333.6,354.8 338.4,346.8" fill="none" stroke="#E8920E" stroke-width="2.1" stroke-linejoin="miter"/><line x1="279.3" y1="373.1" x2="279.3" y2="370.1" stroke="#E8920E" stroke-width="2.1"/><polyline points="274.5,378.1 279.3,370.1 284.1,378.1" fill="none" stroke="#E8920E" stroke-width="2.1" stroke-linejoin="miter"/><line x1="289.1" y1="367.1" x2="289.1" y2="370.1" stroke="#E8920E" stroke-width="2.1"/><polyline points="284.3,362.1 289.1,370.1 293.9,362.1" fill="none" stroke="#E8920E" stroke-width="2.1" stroke-linejoin="miter"/><line x1="301.6" y1="369.4" x2="301.6" y2="367.4" stroke="#E8920E" stroke-width="2.1"/><polyline points="296.8,375.3 301.6,367.4 306.4,375.3" fill="none" stroke="#E8920E" stroke-width="2.1" stroke-linejoin="miter"/><line x1="307.1" y1="357.0" x2="307.1" y2="359.0" stroke="#E8920E" stroke-width="2.1"/><polyline points="302.3,351.1 307.1,359.0 311.9,351.1" fill="none" stroke="#E8920E" stroke-width="2.1" stroke-linejoin="miter"/><line x1="227.9" y1="359.0" x2="227.9" y2="372.0" stroke="#E8920E" stroke-width="2.1"/><polyline points="222.5,363.2 227.9,372.0 233.3,363.2" fill="none" stroke="#E8920E" stroke-width="2.1" stroke-linejoin="miter"/><line x1="330.8" y1="364.6" x2="330.8" y2="375.7" stroke="#E8920E" stroke-width="2.1"/><polyline points="325.5,367.1 330.8,375.7 336.1,367.1" fill="none" stroke="#E8920E" stroke-width="2.1" stroke-linejoin="miter"/><line x1="217.4" y1="432.3" x2="217.4" y2="467.8" stroke="#E8920E" stroke-width="2.1"/><polyline points="211.9,458.8 217.4,467.8 222.9,458.8" fill="none" stroke="#E8920E" stroke-width="2.1" stroke-linejoin="miter"/><line x1="318.3" y1="437.9" x2="318.3" y2="433.0" stroke="#E8920E" stroke-width="2.1"/><polyline points="313.4,441.1 318.3,433.0 323.2,441.1" fill="none" stroke="#E8920E" stroke-width="2.1" stroke-linejoin="miter"/><line x1="281.4" y1="365.6" x2="281.4" y2="419.8" stroke="#E8920E" stroke-width="2.1"/><polyline points="275.9,410.8 281.4,419.8 286.9,410.8" fill="none" stroke="#E8920E" stroke-width="2.1" stroke-linejoin="miter"/><line x1="303.0" y1="415.0" x2="303.0" y2="400.3" stroke="#E8920E" stroke-width="2.1"/><polyline points="297.6,409.3 303.0,400.3 308.4,409.3" fill="none" stroke="#E8920E" stroke-width="2.1" stroke-linejoin="miter"/><line x1="288.4" y1="395.5" x2="288.4" y2="402.4" stroke="#E8920E" stroke-width="2.1"/><polyline points="283.4,394.1 288.4,402.4 293.4,394.1" fill="none" stroke="#E8920E" stroke-width="2.1" stroke-linejoin="miter"/><line x1="257.1" y1="414.2" x2="257.1" y2="409.4" stroke="#E8920E" stroke-width="2.1"/><polyline points="252.2,417.5 257.1,409.4 262.0,417.5" fill="none" stroke="#E8920E" stroke-width="2.1" stroke-linejoin="miter"/><line x1="257.1" y1="403.1" x2="257.1" y2="393.4" stroke="#E8920E" stroke-width="2.1"/><polyline points="251.9,401.9 257.1,393.4 262.3,401.9" fill="none" stroke="#E8920E" stroke-width="2.1" stroke-linejoin="miter"/><line x1="248.7" y1="399.6" x2="248.7" y2="387.8" stroke="#E8920E" stroke-width="2.1"/><polyline points="243.4,396.5 248.7,387.8 254.0,396.5" fill="none" stroke="#E8920E" stroke-width="2.1" stroke-linejoin="miter"/><line x1="225.1" y1="438.6" x2="225.1" y2="422.6" stroke="#E8920E" stroke-width="2.1"/><polyline points="219.6,431.6 225.1,422.6 230.6,431.6" fill="none" stroke="#E8920E" stroke-width="2.1" stroke-linejoin="miter"/><line x1="217.4" y1="406.5" x2="217.4" y2="404.5" stroke="#E8920E" stroke-width="2.1"/><polyline points="212.6,412.4 217.4,404.5 222.2,412.4" fill="none" stroke="#E8920E" stroke-width="2.1" stroke-linejoin="miter"/><line x1="227.9" y1="408.9" x2="227.9" y2="405.9" stroke="#E8920E" stroke-width="2.1"/><polyline points="223.1,413.9 227.9,405.9 232.7,413.9" fill="none" stroke="#E8920E" stroke-width="2.1" stroke-linejoin="miter"/><line x1="220.9" y1="387.1" x2="220.9" y2="392.7" stroke="#E8920E" stroke-width="2.1"/><polyline points="215.9,384.5 220.9,392.7 225.9,384.5" fill="none" stroke="#E8920E" stroke-width="2.1" stroke-linejoin="miter"/><line x1="247.3" y1="409.4" x2="247.3" y2="426.8" stroke="#E8920E" stroke-width="2.1"/><polyline points="241.8,417.8 247.3,426.8 252.8,417.8" fill="none" stroke="#E8920E" stroke-width="2.1" stroke-linejoin="miter"/><line x1="239.0" y1="430.9" x2="239.0" y2="418.4" stroke="#E8920E" stroke-width="2.1"/><polyline points="233.7,427.2 239.0,418.4 244.3,427.2" fill="none" stroke="#E8920E" stroke-width="2.1" stroke-linejoin="miter"/><line x1="233.4" y1="396.9" x2="233.4" y2="410.0" stroke="#E8920E" stroke-width="2.1"/><polyline points="228.0,401.2 233.4,410.0 238.8,401.2" fill="none" stroke="#E8920E" stroke-width="2.1" stroke-linejoin="miter"/><line x1="243.2" y1="419.2" x2="243.2" y2="421.2" stroke="#E8920E" stroke-width="2.1"/><polyline points="238.4,413.3 243.2,421.2 248.0,413.3" fill="none" stroke="#E8920E" stroke-width="2.1" stroke-linejoin="miter"/><line x1="303.0" y1="395.4" x2="303.0" y2="393.4" stroke="#E8920E" stroke-width="2.1"/><polyline points="298.2,401.3 303.0,393.4 307.8,401.3" fill="none" stroke="#E8920E" stroke-width="2.1" stroke-linejoin="miter"/><line x1="307.1" y1="374.4" x2="307.1" y2="377.4" stroke="#E8920E" stroke-width="2.1"/><polyline points="302.3,369.4 307.1,377.4 311.9,369.4" fill="none" stroke="#E8920E" stroke-width="2.1" stroke-linejoin="miter"/><line x1="301.6" y1="373.1" x2="301.6" y2="371.1" stroke="#E8920E" stroke-width="2.1"/><polyline points="296.8,379.0 301.6,371.1 306.4,379.0" fill="none" stroke="#E8920E" stroke-width="2.1" stroke-linejoin="miter"/><line x1="283.5" y1="383.0" x2="283.5" y2="385.0" stroke="#E8920E" stroke-width="2.1"/><polyline points="278.7,377.1 283.5,385.0 288.3,377.1" fill="none" stroke="#E8920E" stroke-width="2.1" stroke-linejoin="miter"/><line x1="271.0" y1="386.4" x2="271.0" y2="379.5" stroke="#E8920E" stroke-width="2.1"/><polyline points="266.0,387.8 271.0,379.5 276.0,387.8" fill="none" stroke="#E8920E" stroke-width="2.1" stroke-linejoin="miter"/><line x1="262.6" y1="378.9" x2="262.6" y2="380.9" stroke="#E8920E" stroke-width="2.1"/><polyline points="257.8,373.0 262.6,380.9 267.4,373.0" fill="none" stroke="#E8920E" stroke-width="2.1" stroke-linejoin="miter"/><line x1="254.3" y1="383.9" x2="254.3" y2="380.9" stroke="#E8920E" stroke-width="2.1"/><polyline points="249.5,388.9 254.3,380.9 259.1,388.9" fill="none" stroke="#E8920E" stroke-width="2.1" stroke-linejoin="miter"/><line x1="245.9" y1="377.5" x2="245.9" y2="379.5" stroke="#E8920E" stroke-width="2.1"/><polyline points="241.1,371.6 245.9,379.5 250.7,371.6" fill="none" stroke="#E8920E" stroke-width="2.1" stroke-linejoin="miter"/><line x1="236.9" y1="384.3" x2="236.9" y2="382.3" stroke="#E8920E" stroke-width="2.1"/><polyline points="232.1,390.2 236.9,382.3 241.7,390.2" fill="none" stroke="#E8920E" stroke-width="2.1" stroke-linejoin="miter"/><line x1="227.9" y1="379.3" x2="227.9" y2="382.3" stroke="#E8920E" stroke-width="2.1"/><polyline points="223.1,374.3 227.9,382.3 232.7,374.3" fill="none" stroke="#E8920E" stroke-width="2.1" stroke-linejoin="miter"/><line x1="276.5" y1="368.1" x2="276.5" y2="371.1" stroke="#E8920E" stroke-width="2.1"/><polyline points="271.7,363.1 276.5,371.1 281.3,363.1" fill="none" stroke="#E8920E" stroke-width="2.1" stroke-linejoin="miter"/><line x1="332.2" y1="404.5" x2="332.2" y2="415.6" stroke="#E8920E" stroke-width="2.1"/><polyline points="326.9,407.0 332.2,415.6 337.5,407.0" fill="none" stroke="#E8920E" stroke-width="2.1" stroke-linejoin="miter"/><line x1="209.8" y1="384.3" x2="209.8" y2="382.3" stroke="#E8920E" stroke-width="2.1"/><polyline points="205.0,390.2 209.8,382.3 214.6,390.2" fill="none" stroke="#E8920E" stroke-width="2.1" stroke-linejoin="miter"/><line x1="420.9" y1="332.6" x2="420.9" y2="334.6" stroke="#E8920E" stroke-width="2.1"/><polyline points="416.1,326.7 420.9,334.6 425.7,326.7" fill="none" stroke="#E8920E" stroke-width="2.1" stroke-linejoin="miter"/><line x1="342.3" y1="319.3" x2="342.3" y2="324.4" stroke="#E8920E" stroke-width="2.1"/><polyline points="337.4,316.3 342.3,324.4 347.2,316.3" fill="none" stroke="#E8920E" stroke-width="2.1" stroke-linejoin="miter"/><line x1="382.3" y1="319.3" x2="382.3" y2="340.4" stroke="#E8920E" stroke-width="2.1"/><polyline points="376.8,331.4 382.3,340.4 387.8,331.4" fill="none" stroke="#E8920E" stroke-width="2.1" stroke-linejoin="miter"/><line x1="396.1" y1="314.2" x2="396.1" y2="325.9" stroke="#E8920E" stroke-width="2.1"/><polyline points="390.8,317.2 396.1,325.9 401.4,317.2" fill="none" stroke="#E8920E" stroke-width="2.1" stroke-linejoin="miter"/><line x1="348.1" y1="337.3" x2="348.1" y2="335.3" stroke="#E8920E" stroke-width="2.1"/><polyline points="343.3,343.2 348.1,335.3 352.9,343.2" fill="none" stroke="#E8920E" stroke-width="2.1" stroke-linejoin="miter"/><line x1="356.1" y1="352.0" x2="356.1" y2="347.7" stroke="#E8920E" stroke-width="2.1"/><polyline points="351.2,355.8 356.1,347.7 361.0,355.8" fill="none" stroke="#E8920E" stroke-width="2.1" stroke-linejoin="miter"/><line x1="352.5" y1="343.9" x2="352.5" y2="341.9" stroke="#E8920E" stroke-width="2.1"/><polyline points="347.7,349.8 352.5,341.9 357.3,349.8" fill="none" stroke="#E8920E" stroke-width="2.1" stroke-linejoin="miter"/><line x1="385.2" y1="361.5" x2="385.2" y2="370.3" stroke="#E8920E" stroke-width="2.1"/><polyline points="380.1,361.9 385.2,370.3 390.3,361.9" fill="none" stroke="#E8920E" stroke-width="2.1" stroke-linejoin="miter"/><line x1="398.3" y1="355.0" x2="398.3" y2="368.1" stroke="#E8920E" stroke-width="2.1"/><polyline points="392.9,359.3 398.3,368.1 403.7,359.3" fill="none" stroke="#E8920E" stroke-width="2.1" stroke-linejoin="miter"/><line x1="411.4" y1="335.3" x2="411.4" y2="362.3" stroke="#E8920E" stroke-width="2.1"/><polyline points="405.9,353.3 411.4,362.3 416.9,353.3" fill="none" stroke="#E8920E" stroke-width="2.1" stroke-linejoin="miter"/><line x1="414.3" y1="349.7" x2="414.3" y2="347.7" stroke="#E8920E" stroke-width="2.1"/><polyline points="409.5,355.6 414.3,347.7 419.1,355.6" fill="none" stroke="#E8920E" stroke-width="2.1" stroke-linejoin="miter"/><line x1="420.2" y1="350.6" x2="420.2" y2="356.4" stroke="#E8920E" stroke-width="2.1"/><polyline points="415.2,348.2 420.2,356.4 425.2,348.2" fill="none" stroke="#E8920E" stroke-width="2.1" stroke-linejoin="miter"/><line x1="446.4" y1="344.8" x2="446.4" y2="364.5" stroke="#E8920E" stroke-width="2.1"/><polyline points="440.9,355.5 446.4,364.5 451.9,355.5" fill="none" stroke="#E8920E" stroke-width="2.1" stroke-linejoin="miter"/><line x1="343.0" y1="362.3" x2="343.0" y2="375.4" stroke="#E8920E" stroke-width="2.1"/><polyline points="337.6,366.6 343.0,375.4 348.4,366.6" fill="none" stroke="#E8920E" stroke-width="2.1" stroke-linejoin="miter"/><line x1="366.6" y1="392.7" x2="366.6" y2="398.2" stroke="#E8920E" stroke-width="2.1"/><polyline points="361.6,390.0 366.6,398.2 371.6,390.0" fill="none" stroke="#E8920E" stroke-width="2.1" stroke-linejoin="miter"/><line x1="404.2" y1="392.7" x2="404.2" y2="388.5" stroke="#E8920E" stroke-width="2.1"/><polyline points="399.3,396.6 404.2,388.5 409.1,396.6" fill="none" stroke="#E8920E" stroke-width="2.1" stroke-linejoin="miter"/><line x1="337.4" y1="394.1" x2="337.4" y2="386.4" stroke="#E8920E" stroke-width="2.1"/><polyline points="332.3,394.8 337.4,386.4 342.5,394.8" fill="none" stroke="#E8920E" stroke-width="2.1" stroke-linejoin="miter"/><line x1="339.5" y1="376.1" x2="339.5" y2="378.1" stroke="#E8920E" stroke-width="2.1"/><polyline points="334.7,370.2 339.5,378.1 344.3,370.2" fill="none" stroke="#E8920E" stroke-width="2.1" stroke-linejoin="miter"/><line x1="215.3" y1="342.0" x2="215.3" y2="344.3" stroke="#E8920E" stroke-width="2.1"/><polyline points="210.5,336.4 215.3,344.3 220.1,336.4" fill="none" stroke="#E8920E" stroke-width="2.1" stroke-linejoin="miter"/><line x1="222.3" y1="350.6" x2="222.3" y2="349.2" stroke="#E8920E" stroke-width="2.1"/><polyline points="217.5,357.0 222.3,349.2 227.1,357.0" fill="none" stroke="#E8920E" stroke-width="2.1" stroke-linejoin="miter"/><line x1="236.2" y1="360.9" x2="236.2" y2="358.9" stroke="#E8920E" stroke-width="2.1"/><polyline points="231.4,366.8 236.2,358.9 241.0,366.8" fill="none" stroke="#E8920E" stroke-width="2.1" stroke-linejoin="miter"/><line x1="266.8" y1="351.6" x2="266.8" y2="350.6" stroke="#E8920E" stroke-width="2.1"/><polyline points="262.1,358.4 266.8,350.6 271.5,358.4" fill="none" stroke="#E8920E" stroke-width="2.1" stroke-linejoin="miter"/><line x1="267.5" y1="364.5" x2="267.5" y2="374.0" stroke="#E8920E" stroke-width="2.1"/><polyline points="262.3,365.5 267.5,374.0 272.7,365.5" fill="none" stroke="#E8920E" stroke-width="2.1" stroke-linejoin="miter"/><line x1="235.5" y1="371.7" x2="235.5" y2="368.7" stroke="#E8920E" stroke-width="2.1"/><polyline points="230.7,376.7 235.5,368.7 240.3,376.7" fill="none" stroke="#E8920E" stroke-width="2.1" stroke-linejoin="miter"/><line x1="243.2" y1="368.2" x2="243.2" y2="365.2" stroke="#E8920E" stroke-width="2.1"/><polyline points="238.4,373.2 243.2,365.2 248.0,373.2" fill="none" stroke="#E8920E" stroke-width="2.1" stroke-linejoin="miter"/><line x1="240.4" y1="376.4" x2="240.4" y2="378.4" stroke="#E8920E" stroke-width="2.1"/><polyline points="235.6,370.5 240.4,378.4 245.2,370.5" fill="none" stroke="#E8920E" stroke-width="2.1" stroke-linejoin="miter"/><line x1="259.2" y1="376.1" x2="259.2" y2="379.1" stroke="#E8920E" stroke-width="2.1"/><polyline points="254.4,371.1 259.2,379.1 264.0,371.1" fill="none" stroke="#E8920E" stroke-width="2.1" stroke-linejoin="miter"/><line x1="266.1" y1="382.5" x2="266.1" y2="380.5" stroke="#E8920E" stroke-width="2.1"/><polyline points="261.3,388.4 266.1,380.5 270.9,388.4" fill="none" stroke="#E8920E" stroke-width="2.1" stroke-linejoin="miter"/><line x1="293.6" y1="333.1" x2="293.6" y2="331.1" stroke="#E8920E" stroke-width="2.1"/><polyline points="288.8,339.0 293.6,331.1 298.4,339.0" fill="none" stroke="#E8920E" stroke-width="2.1" stroke-linejoin="miter"/><line x1="275.5" y1="327.0" x2="275.5" y2="329.0" stroke="#E8920E" stroke-width="2.1"/><polyline points="270.7,321.1 275.5,329.0 280.3,321.1" fill="none" stroke="#E8920E" stroke-width="2.1" stroke-linejoin="miter"/><line x1="274.1" y1="345.0" x2="274.1" y2="343.0" stroke="#E8920E" stroke-width="2.1"/><polyline points="269.3,350.9 274.1,343.0 278.9,350.9" fill="none" stroke="#E8920E" stroke-width="2.1" stroke-linejoin="miter"/><line x1="298.4" y1="341.8" x2="298.4" y2="338.8" stroke="#E8920E" stroke-width="2.1"/><polyline points="293.6,346.8 298.4,338.8 303.2,346.8" fill="none" stroke="#E8920E" stroke-width="2.1" stroke-linejoin="miter"/><line x1="306.1" y1="359.0" x2="306.1" y2="365.2" stroke="#E8920E" stroke-width="2.1"/><polyline points="301.1,357.0 306.1,365.2 311.1,357.0" fill="none" stroke="#E8920E" stroke-width="2.1" stroke-linejoin="miter"/><line x1="299.8" y1="370.9" x2="299.8" y2="372.9" stroke="#E8920E" stroke-width="2.1"/><polyline points="295.0,365.0 299.8,372.9 304.6,365.0" fill="none" stroke="#E8920E" stroke-width="2.1" stroke-linejoin="miter"/><line x1="309.6" y1="379.0" x2="309.6" y2="377.0" stroke="#E8920E" stroke-width="2.1"/><polyline points="304.8,384.9 309.6,377.0 314.4,384.9" fill="none" stroke="#E8920E" stroke-width="2.1" stroke-linejoin="miter"/><line x1="279.0" y1="340.0" x2="279.0" y2="388.0" stroke="#E8920E" stroke-width="2.1"/><polyline points="273.5,379.0 279.0,388.0 284.5,379.0" fill="none" stroke="#E8920E" stroke-width="2.1" stroke-linejoin="miter"/><line x1="288.7" y1="364.5" x2="288.7" y2="392.0" stroke="#E8920E" stroke-width="2.1"/><polyline points="283.2,383.0 288.7,392.0 294.2,383.0" fill="none" stroke="#E8920E" stroke-width="2.1" stroke-linejoin="miter"/><line x1="297.7" y1="345.0" x2="297.7" y2="396.0" stroke="#E8920E" stroke-width="2.1"/><polyline points="292.2,387.0 297.7,396.0 303.2,387.0" fill="none" stroke="#E8920E" stroke-width="2.1" stroke-linejoin="miter"/><line x1="324.2" y1="327.0" x2="324.2" y2="332.0" stroke="#E8920E" stroke-width="2.1"/><polyline points="319.3,323.9 324.2,332.0 329.1,323.9" fill="none" stroke="#E8920E" stroke-width="2.1" stroke-linejoin="miter"/><line x1="155.9" y1="347.9" x2="155.9" y2="349.9" stroke="#E8920E" stroke-width="2.1"/><polyline points="151.1,342.0 155.9,349.9 160.7,342.0" fill="none" stroke="#E8920E" stroke-width="2.1" stroke-linejoin="miter"/><line x1="171.9" y1="366.0" x2="171.9" y2="368.0" stroke="#E8920E" stroke-width="2.1"/><polyline points="167.1,360.1 171.9,368.0 176.7,360.1" fill="none" stroke="#E8920E" stroke-width="2.1" stroke-linejoin="miter"/><line x1="182.3" y1="374.9" x2="182.3" y2="372.9" stroke="#E8920E" stroke-width="2.1"/><polyline points="177.5,380.8 182.3,372.9 187.1,380.8" fill="none" stroke="#E8920E" stroke-width="2.1" stroke-linejoin="miter"/><line x1="175.4" y1="375.6" x2="175.4" y2="382.0" stroke="#E8920E" stroke-width="2.1"/><polyline points="170.4,373.8 175.4,382.0 180.4,373.8" fill="none" stroke="#E8920E" stroke-width="2.1" stroke-linejoin="miter"/><line x1="194.9" y1="359.7" x2="194.9" y2="361.7" stroke="#E8920E" stroke-width="2.1"/><polyline points="190.1,353.8 194.9,361.7 199.7,353.8" fill="none" stroke="#E8920E" stroke-width="2.1" stroke-linejoin="miter"/><line x1="203.2" y1="374.9" x2="203.2" y2="372.9" stroke="#E8920E" stroke-width="2.1"/><polyline points="198.4,380.8 203.2,372.9 208.0,380.8" fill="none" stroke="#E8920E" stroke-width="2.1" stroke-linejoin="miter"/><line x1="180.9" y1="393.9" x2="180.9" y2="384.0" stroke="#E8920E" stroke-width="2.1"/><polyline points="175.7,392.5 180.9,384.0 186.1,392.5" fill="none" stroke="#E8920E" stroke-width="2.1" stroke-linejoin="miter"/><line x1="185.1" y1="394.6" x2="185.1" y2="386.0" stroke="#E8920E" stroke-width="2.1"/><polyline points="180.0,394.4 185.1,386.0 190.2,394.4" fill="none" stroke="#E8920E" stroke-width="2.1" stroke-linejoin="miter"/><line x1="189.3" y1="386.2" x2="189.3" y2="384.2" stroke="#E8920E" stroke-width="2.1"/><polyline points="184.5,392.1 189.3,384.2 194.1,392.1" fill="none" stroke="#E8920E" stroke-width="2.1" stroke-linejoin="miter"/><line x1="246.6" y1="380.1" x2="246.6" y2="382.1" stroke="#E8920E" stroke-width="2.1"/><polyline points="241.8,374.2 246.6,382.1 251.4,374.2" fill="none" stroke="#E8920E" stroke-width="2.1" stroke-linejoin="miter"/><line x1="257.1" y1="384.1" x2="257.1" y2="382.1" stroke="#E8920E" stroke-width="2.1"/><polyline points="252.3,390.0 257.1,382.1 261.9,390.0" fill="none" stroke="#E8920E" stroke-width="2.1" stroke-linejoin="miter"/><line x1="294.3" y1="381.5" x2="294.3" y2="383.5" stroke="#E8920E" stroke-width="2.1"/><polyline points="289.5,375.6 294.3,383.5 299.1,375.6" fill="none" stroke="#E8920E" stroke-width="2.1" stroke-linejoin="miter"/><line x1="306.8" y1="388.3" x2="306.8" y2="386.3" stroke="#E8920E" stroke-width="2.1"/><polyline points="302.0,394.2 306.8,386.3 311.6,394.2" fill="none" stroke="#E8920E" stroke-width="2.1" stroke-linejoin="miter"/><line x1="334.6" y1="393.9" x2="334.6" y2="387.0" stroke="#E8920E" stroke-width="2.1"/><polyline points="329.6,395.3 334.6,387.0 339.6,395.3" fill="none" stroke="#E8920E" stroke-width="2.1" stroke-linejoin="miter"/></g><g clip-path="url(#cBL)"><circle cx="216.9" cy="591.2" r="3.6" fill="#E8920E"/><circle cx="177.4" cy="608.6" r="3.6" fill="#E8920E"/><circle cx="177.4" cy="597.4" r="3.6" fill="#E8920E"/><circle cx="193.0" cy="581.5" r="3.6" fill="#E8920E"/><circle cx="150.5" cy="599.5" r="3.6" fill="#E8920E"/><circle cx="156.1" cy="640.0" r="3.6" fill="#E8920E"/><circle cx="223.6" cy="565.5" r="3.6" fill="#E8920E"/><circle cx="211.7" cy="609.3" r="3.6" fill="#E8920E"/><circle cx="163.8" cy="612.0" r="3.6" fill="#E8920E"/><circle cx="318.5" cy="571.7" r="3.6" fill="#E8920E"/><circle cx="332.0" cy="619.7" r="3.6" fill="#E8920E"/><circle cx="281.2" cy="726.0" r="3.6" fill="#E8920E"/><circle cx="256.9" cy="614.8" r="3.6" fill="#E8920E"/><circle cx="236.0" cy="567.5" r="3.6" fill="#E8920E"/><circle cx="246.5" cy="623.9" r="3.6" fill="#E8920E"/><circle cx="244.4" cy="578.0" r="3.6" fill="#E8920E"/><circle cx="236.0" cy="585.6" r="3.6" fill="#E8920E"/><circle cx="232.6" cy="630.0" r="3.6" fill="#E8920E"/><circle cx="113.4" cy="622.6" r="3.6" fill="#E8920E"/><circle cx="147.1" cy="628.5" r="3.6" fill="#E8920E"/><circle cx="163.8" cy="612.2" r="3.6" fill="#E8920E"/><circle cx="198.5" cy="645.0" r="3.6" fill="#E8920E"/><circle cx="155.4" cy="637.2" r="3.6" fill="#E8920E"/><circle cx="166.5" cy="642.8" r="3.6" fill="#E8920E"/><circle cx="185.3" cy="633.7" r="3.6" fill="#E8920E"/><circle cx="200.6" cy="646.2" r="3.6" fill="#E8920E"/><circle cx="216.6" cy="638.4" r="3.6" fill="#E8920E"/><circle cx="223.6" cy="658.7" r="3.6" fill="#E8920E"/><circle cx="110.2" cy="672.0" r="3.6" fill="#E8920E"/><circle cx="123.4" cy="665.6" r="3.6" fill="#E8920E"/><circle cx="130.4" cy="677.5" r="3.6" fill="#E8920E"/><circle cx="155.4" cy="733.2" r="3.6" fill="#E8920E"/><circle cx="180.5" cy="665.0" r="3.6" fill="#E8920E"/><circle cx="191.6" cy="671.2" r="3.6" fill="#E8920E"/><circle cx="202.7" cy="668.6" r="3.6" fill="#E8920E"/><circle cx="208.3" cy="687.5" r="3.6" fill="#E8920E"/><circle cx="220.8" cy="680.1" r="3.6" fill="#E8920E"/><circle cx="115.1" cy="696.2" r="3.6" fill="#E8920E"/><circle cx="115.1" cy="703.4" r="3.6" fill="#E8920E"/><circle cx="112.3" cy="713.5" r="3.6" fill="#E8920E"/><circle cx="129.0" cy="694.2" r="3.6" fill="#E8920E"/><circle cx="135.9" cy="707.4" r="3.6" fill="#E8920E"/><circle cx="124.8" cy="727.4" r="3.6" fill="#E8920E"/><circle cx="152.6" cy="693.4" r="3.6" fill="#E8920E"/><circle cx="152.6" cy="706.1" r="3.6" fill="#E8920E"/><circle cx="149.8" cy="719.0" r="3.6" fill="#E8920E"/><circle cx="165.2" cy="693.4" r="3.6" fill="#E8920E"/><circle cx="166.5" cy="699.2" r="3.6" fill="#E8920E"/><circle cx="174.9" cy="715.1" r="3.6" fill="#E8920E"/><circle cx="180.5" cy="709.5" r="3.6" fill="#E8920E"/><circle cx="193.0" cy="694.4" r="3.6" fill="#E8920E"/><circle cx="193.0" cy="700.6" r="3.6" fill="#E8920E"/><circle cx="206.9" cy="700.4" r="3.6" fill="#E8920E"/><circle cx="172.1" cy="720.0" r="3.6" fill="#E8920E"/><circle cx="177.7" cy="728.8" r="3.6" fill="#E8920E"/><circle cx="199.9" cy="733.8" r="3.6" fill="#E8920E"/><circle cx="216.6" cy="695.6" r="3.6" fill="#E8920E"/><circle cx="215.2" cy="729.2" r="3.6" fill="#E8920E"/><circle cx="223.6" cy="705.4" r="3.6" fill="#E8920E"/><circle cx="257.3" cy="614.3" r="3.6" fill="#E8920E"/><circle cx="227.4" cy="612.0" r="3.6" fill="#E8920E"/><circle cx="235.8" cy="669.2" r="3.6" fill="#E8920E"/><circle cx="249.7" cy="638.6" r="3.6" fill="#E8920E"/><circle cx="258.0" cy="665.0" r="3.6" fill="#E8920E"/><circle cx="262.9" cy="652.5" r="3.6" fill="#E8920E"/><circle cx="288.6" cy="650.3" r="3.6" fill="#E8920E"/><circle cx="303.2" cy="644.2" r="3.6" fill="#E8920E"/><circle cx="289.3" cy="694.2" r="3.6" fill="#E8920E"/><circle cx="278.2" cy="675.4" r="3.6" fill="#E8920E"/><circle cx="301.8" cy="672.8" r="3.6" fill="#E8920E"/><circle cx="340.8" cy="673.2" r="3.6" fill="#E8920E"/><circle cx="227.4" cy="679.5" r="3.6" fill="#E8920E"/><circle cx="237.9" cy="690.7" r="3.6" fill="#E8920E"/><circle cx="246.2" cy="674.2" r="3.6" fill="#E8920E"/><circle cx="268.5" cy="688.7" r="3.6" fill="#E8920E"/><circle cx="268.5" cy="707.4" r="3.6" fill="#E8920E"/><circle cx="278.2" cy="685.3" r="3.6" fill="#E8920E"/><circle cx="297.7" cy="690.3" r="3.6" fill="#E8920E"/><circle cx="308.1" cy="677.5" r="3.6" fill="#E8920E"/><circle cx="289.3" cy="726.2" r="3.6" fill="#E8920E"/><circle cx="299.1" cy="706.0" r="3.6" fill="#E8920E"/><circle cx="336.6" cy="683.9" r="3.6" fill="#E8920E"/><circle cx="336.6" cy="699.0" r="3.6" fill="#E8920E"/><circle cx="331.0" cy="719.3" r="3.6" fill="#E8920E"/><circle cx="236.5" cy="696.4" r="3.6" fill="#E8920E"/><circle cx="236.5" cy="710.1" r="3.6" fill="#E8920E"/><circle cx="221.2" cy="704.0" r="3.6" fill="#E8920E"/><circle cx="235.1" cy="725.6" r="3.6" fill="#E8920E"/><circle cx="249.0" cy="708.1" r="3.6" fill="#E8920E"/><circle cx="249.0" cy="732.4" r="3.6" fill="#E8920E"/><circle cx="278.2" cy="720.9" r="3.6" fill="#E8920E"/><circle cx="303.2" cy="720.0" r="3.6" fill="#E8920E"/><circle cx="314.4" cy="731.0" r="3.6" fill="#E8920E"/><circle cx="324.1" cy="724.2" r="3.6" fill="#E8920E"/><circle cx="332.4" cy="732.4" r="3.6" fill="#E8920E"/><circle cx="339.4" cy="710.9" r="3.6" fill="#E8920E"/><circle cx="403.9" cy="652.6" r="3.6" fill="#E8920E"/><circle cx="366.7" cy="676.9" r="3.6" fill="#E8920E"/><circle cx="385.0" cy="689.8" r="3.6" fill="#E8920E"/><circle cx="420.1" cy="688.4" r="3.6" fill="#E8920E"/><circle cx="401.2" cy="710.0" r="3.6" fill="#E8920E"/><circle cx="412.0" cy="718.8" r="3.6" fill="#E8920E"/><circle cx="446.5" cy="734.4" r="3.6" fill="#E8920E"/><circle cx="349.8" cy="705.3" r="3.6" fill="#E8920E"/><circle cx="357.3" cy="705.3" r="3.6" fill="#E8920E"/><circle cx="338.4" cy="710.7" r="3.6" fill="#E8920E"/><circle cx="383.0" cy="760.3" r="3.6" fill="#E8920E"/><circle cx="397.8" cy="727.2" r="3.6" fill="#E8920E"/><circle cx="407.3" cy="759.6" r="3.6" fill="#E8920E"/><circle cx="418.1" cy="726.3" r="3.6" fill="#E8920E"/><circle cx="419.8" cy="809.1" r="3.6" fill="#E8920E"/><circle cx="113.2" cy="851.3" r="3.6" fill="#E8920E"/><circle cx="129.3" cy="778.9" r="3.6" fill="#E8920E"/><circle cx="153.2" cy="796.5" r="3.6" fill="#E8920E"/><circle cx="155.3" cy="763.1" r="3.6" fill="#E8920E"/><circle cx="161.6" cy="771.5" r="3.6" fill="#E8920E"/><circle cx="182.7" cy="769.7" r="3.6" fill="#E8920E"/><circle cx="177.1" cy="733.0" r="3.6" fill="#E8920E"/><circle cx="187.6" cy="739.2" r="3.6" fill="#E8920E"/><circle cx="196.7" cy="735.0" r="3.6" fill="#E8920E"/><circle cx="200.9" cy="735.6" r="3.6" fill="#E8920E"/><circle cx="212.2" cy="753.3" r="3.6" fill="#E8920E"/><circle cx="223.4" cy="743.4" r="3.6" fill="#E8920E"/><circle cx="230.3" cy="812.3" r="3.6" fill="#E8920E"/><circle cx="297.1" cy="831.2" r="3.6" fill="#E8920E"/><circle cx="283.7" cy="789.9" r="3.6" fill="#E8920E"/><circle cx="277.4" cy="785.0" r="3.6" fill="#E8920E"/><circle cx="287.2" cy="784.2" r="3.6" fill="#E8920E"/><circle cx="283.0" cy="774.3" r="3.6" fill="#E8920E"/><circle cx="284.4" cy="753.9" r="3.6" fill="#E8920E"/><circle cx="259.8" cy="761.0" r="3.6" fill="#E8920E"/><circle cx="267.6" cy="751.8" r="3.6" fill="#E8920E"/><circle cx="274.6" cy="762.4" r="3.6" fill="#E8920E"/><circle cx="299.9" cy="762.0" r="3.6" fill="#E8920E"/><circle cx="318.1" cy="776.5" r="3.6" fill="#E8920E"/><circle cx="342.7" cy="758.1" r="3.6" fill="#E8920E"/><circle cx="227.5" cy="736.4" r="3.6" fill="#E8920E"/><circle cx="229.6" cy="781.4" r="3.6" fill="#E8920E"/><circle cx="235.3" cy="759.6" r="3.6" fill="#E8920E"/><circle cx="288.6" cy="740.0" r="3.6" fill="#E8920E"/><circle cx="305.5" cy="745.4" r="3.6" fill="#E8920E"/><circle cx="332.2" cy="749.1" r="3.6" fill="#E8920E"/><circle cx="319.5" cy="751.9" r="3.6" fill="#E8920E"/><circle cx="219.8" cy="742.2" r="3.6" fill="#E8920E"/><circle cx="348.2" cy="745.6" r="3.6" fill="#E8920E"/><circle cx="363.7" cy="822.0" r="3.6" fill="#E8920E"/><circle cx="350.3" cy="819.0" r="3.6" fill="#E8920E"/><circle cx="395.9" cy="783.4" r="3.6" fill="#E8920E"/><circle cx="400.9" cy="817.8" r="3.6" fill="#E8920E"/><circle cx="197.1" cy="653.1" r="3.6" fill="#E8920E"/><circle cx="258.7" cy="673.9" r="3.6" fill="#E8920E"/><circle cx="183.4" cy="681.4" r="3.6" fill="#E8920E"/><circle cx="189.4" cy="684.2" r="3.6" fill="#E8920E"/><circle cx="182.6" cy="697.6" r="3.6" fill="#E8920E"/><circle cx="241.6" cy="688.5" r="3.6" fill="#E8920E"/><circle cx="241.6" cy="708.7" r="3.6" fill="#E8920E"/><circle cx="234.7" cy="704.2" r="3.6" fill="#E8920E"/><circle cx="233.0" cy="646.4" r="3.6" fill="#E8920E"/><circle cx="249.3" cy="640.4" r="3.6" fill="#E8920E"/><circle cx="283.1" cy="656.3" r="3.6" fill="#E8920E"/><circle cx="285.7" cy="679.6" r="3.6" fill="#E8920E"/><circle cx="296.8" cy="705.6" r="3.6" fill="#E8920E"/><circle cx="299.3" cy="713.0" r="3.6" fill="#E8920E"/><circle cx="268.1" cy="652.4" r="3.6" fill="#E8920E"/><circle cx="337.5" cy="691.1" r="3.6" fill="#E8920E"/><circle cx="335.0" cy="716.2" r="3.6" fill="#E8920E"/><circle cx="288.1" cy="727.3" r="3.6" fill="#E8920E"/><circle cx="311.0" cy="733.7" r="3.6" fill="#E8920E"/><circle cx="289.5" cy="768.9" r="3.6" fill="#E8920E"/><circle cx="325.6" cy="760.6" r="3.6" fill="#E8920E"/><circle cx="195.7" cy="668.7" r="3.6" fill="#E8920E"/><circle cx="195.1" cy="680.3" r="3.6" fill="#E8920E"/><circle cx="203.2" cy="688.5" r="3.6" fill="#E8920E"/><circle cx="210.6" cy="684.1" r="3.6" fill="#E8920E"/><circle cx="172.7" cy="692.8" r="3.6" fill="#E8920E"/><circle cx="194.6" cy="691.0" r="3.6" fill="#E8920E"/><circle cx="207.4" cy="695.4" r="3.6" fill="#E8920E"/><circle cx="208.5" cy="698.0" r="3.6" fill="#E8920E"/><circle cx="171.1" cy="698.0" r="3.6" fill="#E8920E"/><circle cx="198.9" cy="640.0" r="3.6" fill="#E8920E"/><circle cx="233.3" cy="723.2" r="3.6" fill="#E8920E"/><circle cx="210.3" cy="744.6" r="3.6" fill="#E8920E"/><circle cx="225.3" cy="737.2" r="3.6" fill="#E8920E"/><circle cx="126.8" cy="696.2" r="3.6" fill="#E8920E"/><circle cx="302.0" cy="703.8" r="3.6" fill="#E8920E"/><circle cx="216.9" cy="503.3" r="4.8" fill="#000"/><circle cx="177.4" cy="577.6" r="4.8" fill="#000"/><circle cx="177.4" cy="626.0" r="4.8" fill="#000"/><circle cx="193.0" cy="589.8" r="4.8" fill="#000"/><circle cx="150.5" cy="592.6" r="4.8" fill="#000"/><circle cx="156.1" cy="605.8" r="4.8" fill="#000"/><circle cx="223.6" cy="598.1" r="4.8" fill="#000"/><circle cx="211.7" cy="617.6" r="4.8" fill="#000"/><circle cx="163.8" cy="625.0" r="4.8" fill="#000"/><circle cx="318.5" cy="579.4" r="4.8" fill="#000"/><circle cx="332.0" cy="598.1" r="4.8" fill="#000"/><circle cx="281.2" cy="616.9" r="4.8" fill="#000"/><circle cx="256.9" cy="623.9" r="4.8" fill="#000"/><circle cx="236.0" cy="577.3" r="4.8" fill="#000"/><circle cx="246.5" cy="587.7" r="4.8" fill="#000"/><circle cx="244.4" cy="596.0" r="4.8" fill="#000"/><circle cx="236.0" cy="594.0" r="4.8" fill="#000"/><circle cx="232.6" cy="600.9" r="4.8" fill="#000"/><circle cx="113.4" cy="634.4" r="4.8" fill="#000"/><circle cx="147.1" cy="627.5" r="4.8" fill="#000"/><circle cx="163.8" cy="628.9" r="4.8" fill="#000"/><circle cx="198.5" cy="627.5" r="4.8" fill="#000"/><circle cx="155.4" cy="653.9" r="4.8" fill="#000"/><circle cx="166.5" cy="653.9" r="4.8" fill="#000"/><circle cx="185.3" cy="653.9" r="4.8" fill="#000"/><circle cx="200.6" cy="644.2" r="4.8" fill="#000"/><circle cx="216.6" cy="641.4" r="4.8" fill="#000"/><circle cx="223.6" cy="656.7" r="4.8" fill="#000"/><circle cx="110.2" cy="663.6" r="4.8" fill="#000"/><circle cx="123.4" cy="663.6" r="4.8" fill="#000"/><circle cx="130.4" cy="683.1" r="4.8" fill="#000"/><circle cx="155.4" cy="677.5" r="4.8" fill="#000"/><circle cx="180.5" cy="680.3" r="4.8" fill="#000"/><circle cx="191.6" cy="669.2" r="4.8" fill="#000"/><circle cx="202.7" cy="670.6" r="4.8" fill="#000"/><circle cx="208.3" cy="684.5" r="4.8" fill="#000"/><circle cx="220.8" cy="683.1" r="4.8" fill="#000"/><circle cx="115.1" cy="694.2" r="4.8" fill="#000"/><circle cx="115.1" cy="705.4" r="4.8" fill="#000"/><circle cx="112.3" cy="716.5" r="4.8" fill="#000"/><circle cx="129.0" cy="702.6" r="4.8" fill="#000"/><circle cx="135.9" cy="705.4" r="4.8" fill="#000"/><circle cx="124.8" cy="730.4" r="4.8" fill="#000"/><circle cx="152.6" cy="691.4" r="4.8" fill="#000"/><circle cx="152.6" cy="708.1" r="4.8" fill="#000"/><circle cx="149.8" cy="722.0" r="4.8" fill="#000"/><circle cx="165.2" cy="691.4" r="4.8" fill="#000"/><circle cx="166.5" cy="701.2" r="4.8" fill="#000"/><circle cx="174.9" cy="702.6" r="4.8" fill="#000"/><circle cx="180.5" cy="697.0" r="4.8" fill="#000"/><circle cx="193.0" cy="691.4" r="4.8" fill="#000"/><circle cx="193.0" cy="702.6" r="4.8" fill="#000"/><circle cx="206.9" cy="698.4" r="4.8" fill="#000"/><circle cx="172.1" cy="722.0" r="4.8" fill="#000"/><circle cx="177.7" cy="731.8" r="4.8" fill="#000"/><circle cx="199.9" cy="731.8" r="4.8" fill="#000"/><circle cx="216.6" cy="713.7" r="4.8" fill="#000"/><circle cx="215.2" cy="726.2" r="4.8" fill="#000"/><circle cx="223.6" cy="712.0" r="4.8" fill="#000"/><circle cx="257.3" cy="631.6" r="4.8" fill="#000"/><circle cx="227.4" cy="630.3" r="4.8" fill="#000"/><circle cx="235.8" cy="658.1" r="4.8" fill="#000"/><circle cx="249.7" cy="660.9" r="4.8" fill="#000"/><circle cx="258.0" cy="663.0" r="4.8" fill="#000"/><circle cx="262.9" cy="676.2" r="4.8" fill="#000"/><circle cx="288.6" cy="648.3" r="4.8" fill="#000"/><circle cx="303.2" cy="652.5" r="4.8" fill="#000"/><circle cx="289.3" cy="666.4" r="4.8" fill="#000"/><circle cx="278.2" cy="673.4" r="4.8" fill="#000"/><circle cx="301.8" cy="674.8" r="4.8" fill="#000"/><circle cx="340.8" cy="676.2" r="4.8" fill="#000"/><circle cx="227.4" cy="677.5" r="4.8" fill="#000"/><circle cx="237.9" cy="688.7" r="4.8" fill="#000"/><circle cx="246.2" cy="676.2" r="4.8" fill="#000"/><circle cx="268.5" cy="698.4" r="4.8" fill="#000"/><circle cx="268.5" cy="705.4" r="4.8" fill="#000"/><circle cx="278.2" cy="687.3" r="4.8" fill="#000"/><circle cx="297.7" cy="687.3" r="4.8" fill="#000"/><circle cx="308.1" cy="687.3" r="4.8" fill="#000"/><circle cx="289.3" cy="705.4" r="4.8" fill="#000"/><circle cx="299.1" cy="704.0" r="4.8" fill="#000"/><circle cx="336.6" cy="685.9" r="4.8" fill="#000"/><circle cx="336.6" cy="697.0" r="4.8" fill="#000"/><circle cx="331.0" cy="710.9" r="4.8" fill="#000"/><circle cx="236.5" cy="698.4" r="4.8" fill="#000"/><circle cx="236.5" cy="708.1" r="4.8" fill="#000"/><circle cx="221.2" cy="713.7" r="4.8" fill="#000"/><circle cx="235.1" cy="727.6" r="4.8" fill="#000"/><circle cx="249.0" cy="720.7" r="4.8" fill="#000"/><circle cx="249.0" cy="730.4" r="4.8" fill="#000"/><circle cx="278.2" cy="717.9" r="4.8" fill="#000"/><circle cx="303.2" cy="722.0" r="4.8" fill="#000"/><circle cx="314.4" cy="729.0" r="4.8" fill="#000"/><circle cx="324.1" cy="726.2" r="4.8" fill="#000"/><circle cx="332.4" cy="730.4" r="4.8" fill="#000"/><circle cx="339.4" cy="720.0" r="4.8" fill="#000"/><circle cx="403.9" cy="659.4" r="4.8" fill="#000"/><circle cx="366.7" cy="671.5" r="4.8" fill="#000"/><circle cx="385.0" cy="674.9" r="4.8" fill="#000"/><circle cx="420.1" cy="676.2" r="4.8" fill="#000"/><circle cx="401.2" cy="691.1" r="4.8" fill="#000"/><circle cx="412.0" cy="702.6" r="4.8" fill="#000"/><circle cx="446.5" cy="704.6" r="4.8" fill="#000"/><circle cx="349.8" cy="711.4" r="4.8" fill="#000"/><circle cx="357.3" cy="711.4" r="4.8" fill="#000"/><circle cx="338.4" cy="698.5" r="4.8" fill="#000"/><circle cx="383.0" cy="732.3" r="4.8" fill="#000"/><circle cx="397.8" cy="724.2" r="4.8" fill="#000"/><circle cx="407.3" cy="728.3" r="4.8" fill="#000"/><circle cx="418.1" cy="728.3" r="4.8" fill="#000"/><circle cx="419.8" cy="732.2" r="4.8" fill="#000"/><circle cx="113.2" cy="794.7" r="4.8" fill="#000"/><circle cx="129.3" cy="777.9" r="4.8" fill="#000"/><circle cx="153.2" cy="797.5" r="4.8" fill="#000"/><circle cx="155.3" cy="777.9" r="4.8" fill="#000"/><circle cx="161.6" cy="781.4" r="4.8" fill="#000"/><circle cx="182.7" cy="768.7" r="4.8" fill="#000"/><circle cx="177.1" cy="735.0" r="4.8" fill="#000"/><circle cx="187.6" cy="749.1" r="4.8" fill="#000"/><circle cx="196.7" cy="743.4" r="4.8" fill="#000"/><circle cx="200.9" cy="733.6" r="4.8" fill="#000"/><circle cx="212.2" cy="746.3" r="4.8" fill="#000"/><circle cx="223.4" cy="756.1" r="4.8" fill="#000"/><circle cx="230.3" cy="819.3" r="4.8" fill="#000"/><circle cx="297.1" cy="809.5" r="4.8" fill="#000"/><circle cx="283.7" cy="791.9" r="4.8" fill="#000"/><circle cx="277.4" cy="787.0" r="4.8" fill="#000"/><circle cx="287.2" cy="768.7" r="4.8" fill="#000"/><circle cx="283.0" cy="771.5" r="4.8" fill="#000"/><circle cx="284.4" cy="751.9" r="4.8" fill="#000"/><circle cx="259.8" cy="736.4" r="4.8" fill="#000"/><circle cx="267.6" cy="749.8" r="4.8" fill="#000"/><circle cx="274.6" cy="742.0" r="4.8" fill="#000"/><circle cx="299.9" cy="755.4" r="4.8" fill="#000"/><circle cx="318.1" cy="761.7" r="4.8" fill="#000"/><circle cx="342.7" cy="756.1" r="4.8" fill="#000"/><circle cx="227.5" cy="751.9" r="4.8" fill="#000"/><circle cx="229.6" cy="761.7" r="4.8" fill="#000"/><circle cx="235.3" cy="737.8" r="4.8" fill="#000"/><circle cx="288.6" cy="742.0" r="4.8" fill="#000"/><circle cx="305.5" cy="743.4" r="4.8" fill="#000"/><circle cx="332.2" cy="733.6" r="4.8" fill="#000"/><circle cx="319.5" cy="730.8" r="4.8" fill="#000"/><circle cx="219.8" cy="744.2" r="4.8" fill="#000"/><circle cx="348.2" cy="747.6" r="4.8" fill="#000"/><circle cx="363.7" cy="773.6" r="4.8" fill="#000"/><circle cx="350.3" cy="786.2" r="4.8" fill="#000"/><circle cx="395.9" cy="768.7" r="4.8" fill="#000"/><circle cx="400.9" cy="824.1" r="4.8" fill="#000"/><circle cx="197.1" cy="651.1" r="4.8" fill="#000"/><circle cx="258.7" cy="675.9" r="4.8" fill="#000"/><circle cx="183.4" cy="679.4" r="4.8" fill="#000"/><circle cx="189.4" cy="686.2" r="4.8" fill="#000"/><circle cx="182.6" cy="695.6" r="4.8" fill="#000"/><circle cx="241.6" cy="690.5" r="4.8" fill="#000"/><circle cx="241.6" cy="706.7" r="4.8" fill="#000"/><circle cx="234.7" cy="714.4" r="4.8" fill="#000"/><circle cx="233.0" cy="658.0" r="4.8" fill="#000"/><circle cx="249.3" cy="652.0" r="4.8" fill="#000"/><circle cx="283.1" cy="651.1" r="4.8" fill="#000"/><circle cx="285.7" cy="677.6" r="4.8" fill="#000"/><circle cx="296.8" cy="707.6" r="4.8" fill="#000"/><circle cx="299.3" cy="711.0" r="4.8" fill="#000"/><circle cx="268.1" cy="688.0" r="4.8" fill="#000"/><circle cx="337.5" cy="689.1" r="4.8" fill="#000"/><circle cx="335.0" cy="718.2" r="4.8" fill="#000"/><circle cx="288.1" cy="707.1" r="4.8" fill="#000"/><circle cx="311.0" cy="730.7" r="4.8" fill="#000"/><circle cx="289.5" cy="766.9" r="4.8" fill="#000"/><circle cx="325.6" cy="745.0" r="4.8" fill="#000"/><circle cx="195.7" cy="665.7" r="4.8" fill="#000"/><circle cx="195.1" cy="683.3" r="4.8" fill="#000"/><circle cx="203.2" cy="685.5" r="4.8" fill="#000"/><circle cx="210.6" cy="687.1" r="4.8" fill="#000"/><circle cx="172.7" cy="689.8" r="4.8" fill="#000"/><circle cx="194.6" cy="694.0" r="4.8" fill="#000"/><circle cx="207.4" cy="692.4" r="4.8" fill="#000"/><circle cx="208.5" cy="701.0" r="4.8" fill="#000"/><circle cx="171.1" cy="701.0" r="4.8" fill="#000"/><circle cx="198.9" cy="664.0" r="4.8" fill="#000"/><circle cx="233.3" cy="721.2" r="4.8" fill="#000"/><circle cx="210.3" cy="742.6" r="4.8" fill="#000"/><circle cx="225.3" cy="745.0" r="4.8" fill="#000"/><circle cx="126.8" cy="704.5" r="4.8" fill="#000"/><circle cx="302.0" cy="705.8" r="4.8" fill="#000"/><line x1="216.9" y1="591.2" x2="216.9" y2="503.3" stroke="#E8920E" stroke-width="2.1"/><polyline points="211.4,512.3 216.9,503.3 222.4,512.3" fill="none" stroke="#E8920E" stroke-width="2.1" stroke-linejoin="miter"/><line x1="177.4" y1="608.6" x2="177.4" y2="577.6" stroke="#E8920E" stroke-width="2.1"/><polyline points="171.9,586.6 177.4,577.6 182.9,586.6" fill="none" stroke="#E8920E" stroke-width="2.1" stroke-linejoin="miter"/><line x1="177.4" y1="597.4" x2="177.4" y2="626.0" stroke="#E8920E" stroke-width="2.1"/><polyline points="171.9,617.0 177.4,626.0 182.9,617.0" fill="none" stroke="#E8920E" stroke-width="2.1" stroke-linejoin="miter"/><line x1="193.0" y1="581.5" x2="193.0" y2="589.8" stroke="#E8920E" stroke-width="2.1"/><polyline points="187.9,581.4 193.0,589.8 198.1,581.4" fill="none" stroke="#E8920E" stroke-width="2.1" stroke-linejoin="miter"/><line x1="150.5" y1="599.5" x2="150.5" y2="592.6" stroke="#E8920E" stroke-width="2.1"/><polyline points="145.5,600.9 150.5,592.6 155.5,600.9" fill="none" stroke="#E8920E" stroke-width="2.1" stroke-linejoin="miter"/><line x1="156.1" y1="640.0" x2="156.1" y2="605.8" stroke="#E8920E" stroke-width="2.1"/><polyline points="150.6,614.8 156.1,605.8 161.6,614.8" fill="none" stroke="#E8920E" stroke-width="2.1" stroke-linejoin="miter"/><line x1="223.6" y1="565.5" x2="223.6" y2="598.1" stroke="#E8920E" stroke-width="2.1"/><polyline points="218.1,589.1 223.6,598.1 229.1,589.1" fill="none" stroke="#E8920E" stroke-width="2.1" stroke-linejoin="miter"/><line x1="211.7" y1="609.3" x2="211.7" y2="617.6" stroke="#E8920E" stroke-width="2.1"/><polyline points="206.6,609.2 211.7,617.6 216.8,609.2" fill="none" stroke="#E8920E" stroke-width="2.1" stroke-linejoin="miter"/><line x1="163.8" y1="612.0" x2="163.8" y2="625.0" stroke="#E8920E" stroke-width="2.1"/><polyline points="158.4,616.2 163.8,625.0 169.2,616.2" fill="none" stroke="#E8920E" stroke-width="2.1" stroke-linejoin="miter"/><line x1="318.5" y1="571.7" x2="318.5" y2="579.4" stroke="#E8920E" stroke-width="2.1"/><polyline points="313.4,571.0 318.5,579.4 323.6,571.0" fill="none" stroke="#E8920E" stroke-width="2.1" stroke-linejoin="miter"/><line x1="332.0" y1="619.7" x2="332.0" y2="598.1" stroke="#E8920E" stroke-width="2.1"/><polyline points="326.5,607.1 332.0,598.1 337.5,607.1" fill="none" stroke="#E8920E" stroke-width="2.1" stroke-linejoin="miter"/><line x1="281.2" y1="726.0" x2="281.2" y2="616.9" stroke="#E8920E" stroke-width="2.1"/><polyline points="275.7,625.9 281.2,616.9 286.7,625.9" fill="none" stroke="#E8920E" stroke-width="2.1" stroke-linejoin="miter"/><line x1="256.9" y1="614.8" x2="256.9" y2="623.9" stroke="#E8920E" stroke-width="2.1"/><polyline points="251.7,615.4 256.9,623.9 262.1,615.4" fill="none" stroke="#E8920E" stroke-width="2.1" stroke-linejoin="miter"/><line x1="236.0" y1="567.5" x2="236.0" y2="577.3" stroke="#E8920E" stroke-width="2.1"/><polyline points="230.8,568.8 236.0,577.3 241.2,568.8" fill="none" stroke="#E8920E" stroke-width="2.1" stroke-linejoin="miter"/><line x1="246.5" y1="623.9" x2="246.5" y2="587.7" stroke="#E8920E" stroke-width="2.1"/><polyline points="241.0,596.7 246.5,587.7 252.0,596.7" fill="none" stroke="#E8920E" stroke-width="2.1" stroke-linejoin="miter"/><line x1="244.4" y1="578.0" x2="244.4" y2="596.0" stroke="#E8920E" stroke-width="2.1"/><polyline points="238.9,587.0 244.4,596.0 249.9,587.0" fill="none" stroke="#E8920E" stroke-width="2.1" stroke-linejoin="miter"/><line x1="236.0" y1="585.6" x2="236.0" y2="594.0" stroke="#E8920E" stroke-width="2.1"/><polyline points="230.9,585.6 236.0,594.0 241.1,585.6" fill="none" stroke="#E8920E" stroke-width="2.1" stroke-linejoin="miter"/><line x1="232.6" y1="630.0" x2="232.6" y2="600.9" stroke="#E8920E" stroke-width="2.1"/><polyline points="227.1,609.9 232.6,600.9 238.1,609.9" fill="none" stroke="#E8920E" stroke-width="2.1" stroke-linejoin="miter"/><line x1="113.4" y1="622.6" x2="113.4" y2="634.4" stroke="#E8920E" stroke-width="2.1"/><polyline points="108.1,625.7 113.4,634.4 118.7,625.7" fill="none" stroke="#E8920E" stroke-width="2.1" stroke-linejoin="miter"/><line x1="147.1" y1="628.5" x2="147.1" y2="627.5" stroke="#E8920E" stroke-width="2.1"/><polyline points="142.4,635.3 147.1,627.5 151.8,635.3" fill="none" stroke="#E8920E" stroke-width="2.1" stroke-linejoin="miter"/><line x1="163.8" y1="612.2" x2="163.8" y2="628.9" stroke="#E8920E" stroke-width="2.1"/><polyline points="158.3,619.9 163.8,628.9 169.3,619.9" fill="none" stroke="#E8920E" stroke-width="2.1" stroke-linejoin="miter"/><line x1="198.5" y1="645.0" x2="198.5" y2="627.5" stroke="#E8920E" stroke-width="2.1"/><polyline points="193.0,636.5 198.5,627.5 204.0,636.5" fill="none" stroke="#E8920E" stroke-width="2.1" stroke-linejoin="miter"/><line x1="155.4" y1="637.2" x2="155.4" y2="653.9" stroke="#E8920E" stroke-width="2.1"/><polyline points="149.9,644.9 155.4,653.9 160.9,644.9" fill="none" stroke="#E8920E" stroke-width="2.1" stroke-linejoin="miter"/><line x1="166.5" y1="642.8" x2="166.5" y2="653.9" stroke="#E8920E" stroke-width="2.1"/><polyline points="161.2,645.3 166.5,653.9 171.8,645.3" fill="none" stroke="#E8920E" stroke-width="2.1" stroke-linejoin="miter"/><line x1="185.3" y1="633.7" x2="185.3" y2="653.9" stroke="#E8920E" stroke-width="2.1"/><polyline points="179.8,644.9 185.3,653.9 190.8,644.9" fill="none" stroke="#E8920E" stroke-width="2.1" stroke-linejoin="miter"/><line x1="200.6" y1="646.2" x2="200.6" y2="644.2" stroke="#E8920E" stroke-width="2.1"/><polyline points="195.8,652.1 200.6,644.2 205.4,652.1" fill="none" stroke="#E8920E" stroke-width="2.1" stroke-linejoin="miter"/><line x1="216.6" y1="638.4" x2="216.6" y2="641.4" stroke="#E8920E" stroke-width="2.1"/><polyline points="211.8,633.4 216.6,641.4 221.4,633.4" fill="none" stroke="#E8920E" stroke-width="2.1" stroke-linejoin="miter"/><line x1="223.6" y1="658.7" x2="223.6" y2="656.7" stroke="#E8920E" stroke-width="2.1"/><polyline points="218.8,664.6 223.6,656.7 228.4,664.6" fill="none" stroke="#E8920E" stroke-width="2.1" stroke-linejoin="miter"/><line x1="110.2" y1="672.0" x2="110.2" y2="663.6" stroke="#E8920E" stroke-width="2.1"/><polyline points="105.1,672.0 110.2,663.6 115.3,672.0" fill="none" stroke="#E8920E" stroke-width="2.1" stroke-linejoin="miter"/><line x1="123.4" y1="665.6" x2="123.4" y2="663.6" stroke="#E8920E" stroke-width="2.1"/><polyline points="118.6,671.5 123.4,663.6 128.2,671.5" fill="none" stroke="#E8920E" stroke-width="2.1" stroke-linejoin="miter"/><line x1="130.4" y1="677.5" x2="130.4" y2="683.1" stroke="#E8920E" stroke-width="2.1"/><polyline points="125.4,674.9 130.4,683.1 135.4,674.9" fill="none" stroke="#E8920E" stroke-width="2.1" stroke-linejoin="miter"/><line x1="155.4" y1="733.2" x2="155.4" y2="677.5" stroke="#E8920E" stroke-width="2.1"/><polyline points="149.9,686.5 155.4,677.5 160.9,686.5" fill="none" stroke="#E8920E" stroke-width="2.1" stroke-linejoin="miter"/><line x1="180.5" y1="665.0" x2="180.5" y2="680.3" stroke="#E8920E" stroke-width="2.1"/><polyline points="175.0,671.3 180.5,680.3 186.0,671.3" fill="none" stroke="#E8920E" stroke-width="2.1" stroke-linejoin="miter"/><line x1="191.6" y1="671.2" x2="191.6" y2="669.2" stroke="#E8920E" stroke-width="2.1"/><polyline points="186.8,677.1 191.6,669.2 196.4,677.1" fill="none" stroke="#E8920E" stroke-width="2.1" stroke-linejoin="miter"/><line x1="202.7" y1="668.6" x2="202.7" y2="670.6" stroke="#E8920E" stroke-width="2.1"/><polyline points="197.9,662.7 202.7,670.6 207.5,662.7" fill="none" stroke="#E8920E" stroke-width="2.1" stroke-linejoin="miter"/><line x1="208.3" y1="687.5" x2="208.3" y2="684.5" stroke="#E8920E" stroke-width="2.1"/><polyline points="203.5,692.5 208.3,684.5 213.1,692.5" fill="none" stroke="#E8920E" stroke-width="2.1" stroke-linejoin="miter"/><line x1="220.8" y1="680.1" x2="220.8" y2="683.1" stroke="#E8920E" stroke-width="2.1"/><polyline points="216.0,675.1 220.8,683.1 225.6,675.1" fill="none" stroke="#E8920E" stroke-width="2.1" stroke-linejoin="miter"/><line x1="115.1" y1="696.2" x2="115.1" y2="694.2" stroke="#E8920E" stroke-width="2.1"/><polyline points="110.3,702.1 115.1,694.2 119.9,702.1" fill="none" stroke="#E8920E" stroke-width="2.1" stroke-linejoin="miter"/><line x1="115.1" y1="703.4" x2="115.1" y2="705.4" stroke="#E8920E" stroke-width="2.1"/><polyline points="110.3,697.5 115.1,705.4 119.9,697.5" fill="none" stroke="#E8920E" stroke-width="2.1" stroke-linejoin="miter"/><line x1="112.3" y1="713.5" x2="112.3" y2="716.5" stroke="#E8920E" stroke-width="2.1"/><polyline points="107.5,708.5 112.3,716.5 117.1,708.5" fill="none" stroke="#E8920E" stroke-width="2.1" stroke-linejoin="miter"/><line x1="129.0" y1="694.2" x2="129.0" y2="702.6" stroke="#E8920E" stroke-width="2.1"/><polyline points="123.9,694.2 129.0,702.6 134.1,694.2" fill="none" stroke="#E8920E" stroke-width="2.1" stroke-linejoin="miter"/><line x1="135.9" y1="707.4" x2="135.9" y2="705.4" stroke="#E8920E" stroke-width="2.1"/><polyline points="131.1,713.3 135.9,705.4 140.7,713.3" fill="none" stroke="#E8920E" stroke-width="2.1" stroke-linejoin="miter"/><line x1="124.8" y1="727.4" x2="124.8" y2="730.4" stroke="#E8920E" stroke-width="2.1"/><polyline points="120.0,722.4 124.8,730.4 129.6,722.4" fill="none" stroke="#E8920E" stroke-width="2.1" stroke-linejoin="miter"/><line x1="152.6" y1="693.4" x2="152.6" y2="691.4" stroke="#E8920E" stroke-width="2.1"/><polyline points="147.8,699.3 152.6,691.4 157.4,699.3" fill="none" stroke="#E8920E" stroke-width="2.1" stroke-linejoin="miter"/><line x1="152.6" y1="706.1" x2="152.6" y2="708.1" stroke="#E8920E" stroke-width="2.1"/><polyline points="147.8,700.2 152.6,708.1 157.4,700.2" fill="none" stroke="#E8920E" stroke-width="2.1" stroke-linejoin="miter"/><line x1="149.8" y1="719.0" x2="149.8" y2="722.0" stroke="#E8920E" stroke-width="2.1"/><polyline points="145.0,714.0 149.8,722.0 154.6,714.0" fill="none" stroke="#E8920E" stroke-width="2.1" stroke-linejoin="miter"/><line x1="165.2" y1="693.4" x2="165.2" y2="691.4" stroke="#E8920E" stroke-width="2.1"/><polyline points="160.4,699.3 165.2,691.4 170.0,699.3" fill="none" stroke="#E8920E" stroke-width="2.1" stroke-linejoin="miter"/><line x1="166.5" y1="699.2" x2="166.5" y2="701.2" stroke="#E8920E" stroke-width="2.1"/><polyline points="161.7,693.3 166.5,701.2 171.3,693.3" fill="none" stroke="#E8920E" stroke-width="2.1" stroke-linejoin="miter"/><line x1="174.9" y1="715.1" x2="174.9" y2="702.6" stroke="#E8920E" stroke-width="2.1"/><polyline points="169.6,711.4 174.9,702.6 180.2,711.4" fill="none" stroke="#E8920E" stroke-width="2.1" stroke-linejoin="miter"/><line x1="180.5" y1="709.5" x2="180.5" y2="697.0" stroke="#E8920E" stroke-width="2.1"/><polyline points="175.2,705.8 180.5,697.0 185.8,705.8" fill="none" stroke="#E8920E" stroke-width="2.1" stroke-linejoin="miter"/><line x1="193.0" y1="694.4" x2="193.0" y2="691.4" stroke="#E8920E" stroke-width="2.1"/><polyline points="188.2,699.4 193.0,691.4 197.8,699.4" fill="none" stroke="#E8920E" stroke-width="2.1" stroke-linejoin="miter"/><line x1="193.0" y1="700.6" x2="193.0" y2="702.6" stroke="#E8920E" stroke-width="2.1"/><polyline points="188.2,694.7 193.0,702.6 197.8,694.7" fill="none" stroke="#E8920E" stroke-width="2.1" stroke-linejoin="miter"/><line x1="206.9" y1="700.4" x2="206.9" y2="698.4" stroke="#E8920E" stroke-width="2.1"/><polyline points="202.1,706.3 206.9,698.4 211.7,706.3" fill="none" stroke="#E8920E" stroke-width="2.1" stroke-linejoin="miter"/><line x1="172.1" y1="720.0" x2="172.1" y2="722.0" stroke="#E8920E" stroke-width="2.1"/><polyline points="167.3,714.1 172.1,722.0 176.9,714.1" fill="none" stroke="#E8920E" stroke-width="2.1" stroke-linejoin="miter"/><line x1="177.7" y1="728.8" x2="177.7" y2="731.8" stroke="#E8920E" stroke-width="2.1"/><polyline points="172.9,723.8 177.7,731.8 182.5,723.8" fill="none" stroke="#E8920E" stroke-width="2.1" stroke-linejoin="miter"/><line x1="199.9" y1="733.8" x2="199.9" y2="731.8" stroke="#E8920E" stroke-width="2.1"/><polyline points="195.1,739.7 199.9,731.8 204.7,739.7" fill="none" stroke="#E8920E" stroke-width="2.1" stroke-linejoin="miter"/><line x1="216.6" y1="695.6" x2="216.6" y2="713.7" stroke="#E8920E" stroke-width="2.1"/><polyline points="211.1,704.7 216.6,713.7 222.1,704.7" fill="none" stroke="#E8920E" stroke-width="2.1" stroke-linejoin="miter"/><line x1="215.2" y1="729.2" x2="215.2" y2="726.2" stroke="#E8920E" stroke-width="2.1"/><polyline points="210.4,734.2 215.2,726.2 220.0,734.2" fill="none" stroke="#E8920E" stroke-width="2.1" stroke-linejoin="miter"/><line x1="223.6" y1="705.4" x2="223.6" y2="712.0" stroke="#E8920E" stroke-width="2.1"/><polyline points="218.6,703.7 223.6,712.0 228.6,703.7" fill="none" stroke="#E8920E" stroke-width="2.1" stroke-linejoin="miter"/><line x1="257.3" y1="614.3" x2="257.3" y2="631.6" stroke="#E8920E" stroke-width="2.1"/><polyline points="251.8,622.6 257.3,631.6 262.8,622.6" fill="none" stroke="#E8920E" stroke-width="2.1" stroke-linejoin="miter"/><line x1="227.4" y1="612.0" x2="227.4" y2="630.3" stroke="#E8920E" stroke-width="2.1"/><polyline points="221.9,621.3 227.4,630.3 232.9,621.3" fill="none" stroke="#E8920E" stroke-width="2.1" stroke-linejoin="miter"/><line x1="235.8" y1="669.2" x2="235.8" y2="658.1" stroke="#E8920E" stroke-width="2.1"/><polyline points="230.5,666.7 235.8,658.1 241.1,666.7" fill="none" stroke="#E8920E" stroke-width="2.1" stroke-linejoin="miter"/><line x1="249.7" y1="638.6" x2="249.7" y2="660.9" stroke="#E8920E" stroke-width="2.1"/><polyline points="244.2,651.9 249.7,660.9 255.2,651.9" fill="none" stroke="#E8920E" stroke-width="2.1" stroke-linejoin="miter"/><line x1="258.0" y1="665.0" x2="258.0" y2="663.0" stroke="#E8920E" stroke-width="2.1"/><polyline points="253.2,670.9 258.0,663.0 262.8,670.9" fill="none" stroke="#E8920E" stroke-width="2.1" stroke-linejoin="miter"/><line x1="262.9" y1="652.5" x2="262.9" y2="676.2" stroke="#E8920E" stroke-width="2.1"/><polyline points="257.4,667.2 262.9,676.2 268.4,667.2" fill="none" stroke="#E8920E" stroke-width="2.1" stroke-linejoin="miter"/><line x1="288.6" y1="650.3" x2="288.6" y2="648.3" stroke="#E8920E" stroke-width="2.1"/><polyline points="283.8,656.2 288.6,648.3 293.4,656.2" fill="none" stroke="#E8920E" stroke-width="2.1" stroke-linejoin="miter"/><line x1="303.2" y1="644.2" x2="303.2" y2="652.5" stroke="#E8920E" stroke-width="2.1"/><polyline points="298.1,644.1 303.2,652.5 308.3,644.1" fill="none" stroke="#E8920E" stroke-width="2.1" stroke-linejoin="miter"/><line x1="289.3" y1="694.2" x2="289.3" y2="666.4" stroke="#E8920E" stroke-width="2.1"/><polyline points="283.8,675.4 289.3,666.4 294.8,675.4" fill="none" stroke="#E8920E" stroke-width="2.1" stroke-linejoin="miter"/><line x1="278.2" y1="675.4" x2="278.2" y2="673.4" stroke="#E8920E" stroke-width="2.1"/><polyline points="273.4,681.3 278.2,673.4 283.0,681.3" fill="none" stroke="#E8920E" stroke-width="2.1" stroke-linejoin="miter"/><line x1="301.8" y1="672.8" x2="301.8" y2="674.8" stroke="#E8920E" stroke-width="2.1"/><polyline points="297.0,666.9 301.8,674.8 306.6,666.9" fill="none" stroke="#E8920E" stroke-width="2.1" stroke-linejoin="miter"/><line x1="340.8" y1="673.2" x2="340.8" y2="676.2" stroke="#E8920E" stroke-width="2.1"/><polyline points="336.0,668.2 340.8,676.2 345.6,668.2" fill="none" stroke="#E8920E" stroke-width="2.1" stroke-linejoin="miter"/><line x1="227.4" y1="679.5" x2="227.4" y2="677.5" stroke="#E8920E" stroke-width="2.1"/><polyline points="222.6,685.4 227.4,677.5 232.2,685.4" fill="none" stroke="#E8920E" stroke-width="2.1" stroke-linejoin="miter"/><line x1="237.9" y1="690.7" x2="237.9" y2="688.7" stroke="#E8920E" stroke-width="2.1"/><polyline points="233.1,696.6 237.9,688.7 242.7,696.6" fill="none" stroke="#E8920E" stroke-width="2.1" stroke-linejoin="miter"/><line x1="246.2" y1="674.2" x2="246.2" y2="676.2" stroke="#E8920E" stroke-width="2.1"/><polyline points="241.4,668.3 246.2,676.2 251.0,668.3" fill="none" stroke="#E8920E" stroke-width="2.1" stroke-linejoin="miter"/><line x1="268.5" y1="688.7" x2="268.5" y2="698.4" stroke="#E8920E" stroke-width="2.1"/><polyline points="263.3,689.9 268.5,698.4 273.7,689.9" fill="none" stroke="#E8920E" stroke-width="2.1" stroke-linejoin="miter"/><line x1="268.5" y1="707.4" x2="268.5" y2="705.4" stroke="#E8920E" stroke-width="2.1"/><polyline points="263.7,713.3 268.5,705.4 273.3,713.3" fill="none" stroke="#E8920E" stroke-width="2.1" stroke-linejoin="miter"/><line x1="278.2" y1="685.3" x2="278.2" y2="687.3" stroke="#E8920E" stroke-width="2.1"/><polyline points="273.4,679.4 278.2,687.3 283.0,679.4" fill="none" stroke="#E8920E" stroke-width="2.1" stroke-linejoin="miter"/><line x1="297.7" y1="690.3" x2="297.7" y2="687.3" stroke="#E8920E" stroke-width="2.1"/><polyline points="292.9,695.3 297.7,687.3 302.5,695.3" fill="none" stroke="#E8920E" stroke-width="2.1" stroke-linejoin="miter"/><line x1="308.1" y1="677.5" x2="308.1" y2="687.3" stroke="#E8920E" stroke-width="2.1"/><polyline points="302.9,678.8 308.1,687.3 313.3,678.8" fill="none" stroke="#E8920E" stroke-width="2.1" stroke-linejoin="miter"/><line x1="289.3" y1="726.2" x2="289.3" y2="705.4" stroke="#E8920E" stroke-width="2.1"/><polyline points="283.8,714.4 289.3,705.4 294.8,714.4" fill="none" stroke="#E8920E" stroke-width="2.1" stroke-linejoin="miter"/><line x1="299.1" y1="706.0" x2="299.1" y2="704.0" stroke="#E8920E" stroke-width="2.1"/><polyline points="294.3,711.9 299.1,704.0 303.9,711.9" fill="none" stroke="#E8920E" stroke-width="2.1" stroke-linejoin="miter"/><line x1="336.6" y1="683.9" x2="336.6" y2="685.9" stroke="#E8920E" stroke-width="2.1"/><polyline points="331.8,678.0 336.6,685.9 341.4,678.0" fill="none" stroke="#E8920E" stroke-width="2.1" stroke-linejoin="miter"/><line x1="336.6" y1="699.0" x2="336.6" y2="697.0" stroke="#E8920E" stroke-width="2.1"/><polyline points="331.8,704.9 336.6,697.0 341.4,704.9" fill="none" stroke="#E8920E" stroke-width="2.1" stroke-linejoin="miter"/><line x1="331.0" y1="719.3" x2="331.0" y2="710.9" stroke="#E8920E" stroke-width="2.1"/><polyline points="325.9,719.3 331.0,710.9 336.1,719.3" fill="none" stroke="#E8920E" stroke-width="2.1" stroke-linejoin="miter"/><line x1="236.5" y1="696.4" x2="236.5" y2="698.4" stroke="#E8920E" stroke-width="2.1"/><polyline points="231.7,690.5 236.5,698.4 241.3,690.5" fill="none" stroke="#E8920E" stroke-width="2.1" stroke-linejoin="miter"/><line x1="236.5" y1="710.1" x2="236.5" y2="708.1" stroke="#E8920E" stroke-width="2.1"/><polyline points="231.7,716.0 236.5,708.1 241.3,716.0" fill="none" stroke="#E8920E" stroke-width="2.1" stroke-linejoin="miter"/><line x1="221.2" y1="704.0" x2="221.2" y2="713.7" stroke="#E8920E" stroke-width="2.1"/><polyline points="216.0,705.2 221.2,713.7 226.4,705.2" fill="none" stroke="#E8920E" stroke-width="2.1" stroke-linejoin="miter"/><line x1="235.1" y1="725.6" x2="235.1" y2="727.6" stroke="#E8920E" stroke-width="2.1"/><polyline points="230.3,719.7 235.1,727.6 239.9,719.7" fill="none" stroke="#E8920E" stroke-width="2.1" stroke-linejoin="miter"/><line x1="249.0" y1="708.1" x2="249.0" y2="720.7" stroke="#E8920E" stroke-width="2.1"/><polyline points="243.7,711.9 249.0,720.7 254.3,711.9" fill="none" stroke="#E8920E" stroke-width="2.1" stroke-linejoin="miter"/><line x1="249.0" y1="732.4" x2="249.0" y2="730.4" stroke="#E8920E" stroke-width="2.1"/><polyline points="244.2,738.3 249.0,730.4 253.8,738.3" fill="none" stroke="#E8920E" stroke-width="2.1" stroke-linejoin="miter"/><line x1="278.2" y1="720.9" x2="278.2" y2="717.9" stroke="#E8920E" stroke-width="2.1"/><polyline points="273.4,725.9 278.2,717.9 283.0,725.9" fill="none" stroke="#E8920E" stroke-width="2.1" stroke-linejoin="miter"/><line x1="303.2" y1="720.0" x2="303.2" y2="722.0" stroke="#E8920E" stroke-width="2.1"/><polyline points="298.4,714.1 303.2,722.0 308.0,714.1" fill="none" stroke="#E8920E" stroke-width="2.1" stroke-linejoin="miter"/><line x1="314.4" y1="731.0" x2="314.4" y2="729.0" stroke="#E8920E" stroke-width="2.1"/><polyline points="309.6,736.9 314.4,729.0 319.2,736.9" fill="none" stroke="#E8920E" stroke-width="2.1" stroke-linejoin="miter"/><line x1="324.1" y1="724.2" x2="324.1" y2="726.2" stroke="#E8920E" stroke-width="2.1"/><polyline points="319.3,718.3 324.1,726.2 328.9,718.3" fill="none" stroke="#E8920E" stroke-width="2.1" stroke-linejoin="miter"/><line x1="332.4" y1="732.4" x2="332.4" y2="730.4" stroke="#E8920E" stroke-width="2.1"/><polyline points="327.6,738.3 332.4,730.4 337.2,738.3" fill="none" stroke="#E8920E" stroke-width="2.1" stroke-linejoin="miter"/><line x1="339.4" y1="710.9" x2="339.4" y2="720.0" stroke="#E8920E" stroke-width="2.1"/><polyline points="334.2,711.5 339.4,720.0 344.6,711.5" fill="none" stroke="#E8920E" stroke-width="2.1" stroke-linejoin="miter"/><line x1="403.9" y1="652.6" x2="403.9" y2="659.4" stroke="#E8920E" stroke-width="2.1"/><polyline points="398.9,651.1 403.9,659.4 408.9,651.1" fill="none" stroke="#E8920E" stroke-width="2.1" stroke-linejoin="miter"/><line x1="366.7" y1="676.9" x2="366.7" y2="671.5" stroke="#E8920E" stroke-width="2.1"/><polyline points="361.7,679.7 366.7,671.5 371.7,679.7" fill="none" stroke="#E8920E" stroke-width="2.1" stroke-linejoin="miter"/><line x1="385.0" y1="689.8" x2="385.0" y2="674.9" stroke="#E8920E" stroke-width="2.1"/><polyline points="379.5,683.9 385.0,674.9 390.5,683.9" fill="none" stroke="#E8920E" stroke-width="2.1" stroke-linejoin="miter"/><line x1="420.1" y1="688.4" x2="420.1" y2="676.2" stroke="#E8920E" stroke-width="2.1"/><polyline points="414.8,684.9 420.1,676.2 425.4,684.9" fill="none" stroke="#E8920E" stroke-width="2.1" stroke-linejoin="miter"/><line x1="401.2" y1="710.0" x2="401.2" y2="691.1" stroke="#E8920E" stroke-width="2.1"/><polyline points="395.7,700.1 401.2,691.1 406.7,700.1" fill="none" stroke="#E8920E" stroke-width="2.1" stroke-linejoin="miter"/><line x1="412.0" y1="718.8" x2="412.0" y2="702.6" stroke="#E8920E" stroke-width="2.1"/><polyline points="406.5,711.6 412.0,702.6 417.5,711.6" fill="none" stroke="#E8920E" stroke-width="2.1" stroke-linejoin="miter"/><line x1="446.5" y1="734.4" x2="446.5" y2="704.6" stroke="#E8920E" stroke-width="2.1"/><polyline points="441.0,713.6 446.5,704.6 452.0,713.6" fill="none" stroke="#E8920E" stroke-width="2.1" stroke-linejoin="miter"/><line x1="349.8" y1="705.3" x2="349.8" y2="711.4" stroke="#E8920E" stroke-width="2.1"/><polyline points="344.8,703.2 349.8,711.4 354.8,703.2" fill="none" stroke="#E8920E" stroke-width="2.1" stroke-linejoin="miter"/><line x1="357.3" y1="705.3" x2="357.3" y2="711.4" stroke="#E8920E" stroke-width="2.1"/><polyline points="352.3,703.2 357.3,711.4 362.3,703.2" fill="none" stroke="#E8920E" stroke-width="2.1" stroke-linejoin="miter"/><line x1="338.4" y1="710.7" x2="338.4" y2="698.5" stroke="#E8920E" stroke-width="2.1"/><polyline points="333.1,707.2 338.4,698.5 343.7,707.2" fill="none" stroke="#E8920E" stroke-width="2.1" stroke-linejoin="miter"/><line x1="383.0" y1="760.3" x2="383.0" y2="732.3" stroke="#E8920E" stroke-width="2.1"/><polyline points="377.5,741.3 383.0,732.3 388.5,741.3" fill="none" stroke="#E8920E" stroke-width="2.1" stroke-linejoin="miter"/><line x1="397.8" y1="727.2" x2="397.8" y2="724.2" stroke="#E8920E" stroke-width="2.1"/><polyline points="393.0,732.2 397.8,724.2 402.6,732.2" fill="none" stroke="#E8920E" stroke-width="2.1" stroke-linejoin="miter"/><line x1="407.3" y1="759.6" x2="407.3" y2="728.3" stroke="#E8920E" stroke-width="2.1"/><polyline points="401.8,737.3 407.3,728.3 412.8,737.3" fill="none" stroke="#E8920E" stroke-width="2.1" stroke-linejoin="miter"/><line x1="418.1" y1="726.3" x2="418.1" y2="728.3" stroke="#E8920E" stroke-width="2.1"/><polyline points="413.3,720.4 418.1,728.3 422.9,720.4" fill="none" stroke="#E8920E" stroke-width="2.1" stroke-linejoin="miter"/><line x1="419.8" y1="809.1" x2="419.8" y2="732.2" stroke="#E8920E" stroke-width="2.1"/><polyline points="414.3,741.2 419.8,732.2 425.3,741.2" fill="none" stroke="#E8920E" stroke-width="2.1" stroke-linejoin="miter"/><line x1="113.2" y1="851.3" x2="113.2" y2="794.7" stroke="#E8920E" stroke-width="2.1"/><polyline points="107.7,803.7 113.2,794.7 118.7,803.7" fill="none" stroke="#E8920E" stroke-width="2.1" stroke-linejoin="miter"/><line x1="129.3" y1="778.9" x2="129.3" y2="777.9" stroke="#E8920E" stroke-width="2.1"/><polyline points="124.6,785.7 129.3,777.9 134.0,785.7" fill="none" stroke="#E8920E" stroke-width="2.1" stroke-linejoin="miter"/><line x1="153.2" y1="796.5" x2="153.2" y2="797.5" stroke="#E8920E" stroke-width="2.1"/><polyline points="148.5,789.7 153.2,797.5 157.9,789.7" fill="none" stroke="#E8920E" stroke-width="2.1" stroke-linejoin="miter"/><line x1="155.3" y1="763.1" x2="155.3" y2="777.9" stroke="#E8920E" stroke-width="2.1"/><polyline points="149.9,768.9 155.3,777.9 160.7,768.9" fill="none" stroke="#E8920E" stroke-width="2.1" stroke-linejoin="miter"/><line x1="161.6" y1="771.5" x2="161.6" y2="781.4" stroke="#E8920E" stroke-width="2.1"/><polyline points="156.4,772.9 161.6,781.4 166.8,772.9" fill="none" stroke="#E8920E" stroke-width="2.1" stroke-linejoin="miter"/><line x1="182.7" y1="769.7" x2="182.7" y2="768.7" stroke="#E8920E" stroke-width="2.1"/><polyline points="178.0,776.5 182.7,768.7 187.4,776.5" fill="none" stroke="#E8920E" stroke-width="2.1" stroke-linejoin="miter"/><line x1="177.1" y1="733.0" x2="177.1" y2="735.0" stroke="#E8920E" stroke-width="2.1"/><polyline points="172.3,727.1 177.1,735.0 181.9,727.1" fill="none" stroke="#E8920E" stroke-width="2.1" stroke-linejoin="miter"/><line x1="187.6" y1="739.2" x2="187.6" y2="749.1" stroke="#E8920E" stroke-width="2.1"/><polyline points="182.4,740.6 187.6,749.1 192.8,740.6" fill="none" stroke="#E8920E" stroke-width="2.1" stroke-linejoin="miter"/><line x1="196.7" y1="735.0" x2="196.7" y2="743.4" stroke="#E8920E" stroke-width="2.1"/><polyline points="191.6,735.0 196.7,743.4 201.8,735.0" fill="none" stroke="#E8920E" stroke-width="2.1" stroke-linejoin="miter"/><line x1="200.9" y1="735.6" x2="200.9" y2="733.6" stroke="#E8920E" stroke-width="2.1"/><polyline points="196.1,741.5 200.9,733.6 205.7,741.5" fill="none" stroke="#E8920E" stroke-width="2.1" stroke-linejoin="miter"/><line x1="212.2" y1="753.3" x2="212.2" y2="746.3" stroke="#E8920E" stroke-width="2.1"/><polyline points="207.2,754.6 212.2,746.3 217.2,754.6" fill="none" stroke="#E8920E" stroke-width="2.1" stroke-linejoin="miter"/><line x1="223.4" y1="743.4" x2="223.4" y2="756.1" stroke="#E8920E" stroke-width="2.1"/><polyline points="218.1,747.3 223.4,756.1 228.7,747.3" fill="none" stroke="#E8920E" stroke-width="2.1" stroke-linejoin="miter"/><line x1="230.3" y1="812.3" x2="230.3" y2="819.3" stroke="#E8920E" stroke-width="2.1"/><polyline points="225.3,811.0 230.3,819.3 235.3,811.0" fill="none" stroke="#E8920E" stroke-width="2.1" stroke-linejoin="miter"/><line x1="297.1" y1="831.2" x2="297.1" y2="809.5" stroke="#E8920E" stroke-width="2.1"/><polyline points="291.6,818.5 297.1,809.5 302.6,818.5" fill="none" stroke="#E8920E" stroke-width="2.1" stroke-linejoin="miter"/><line x1="283.7" y1="789.9" x2="283.7" y2="791.9" stroke="#E8920E" stroke-width="2.1"/><polyline points="278.9,784.0 283.7,791.9 288.5,784.0" fill="none" stroke="#E8920E" stroke-width="2.1" stroke-linejoin="miter"/><line x1="277.4" y1="785.0" x2="277.4" y2="787.0" stroke="#E8920E" stroke-width="2.1"/><polyline points="272.6,779.1 277.4,787.0 282.2,779.1" fill="none" stroke="#E8920E" stroke-width="2.1" stroke-linejoin="miter"/><line x1="287.2" y1="784.2" x2="287.2" y2="768.7" stroke="#E8920E" stroke-width="2.1"/><polyline points="281.7,777.7 287.2,768.7 292.7,777.7" fill="none" stroke="#E8920E" stroke-width="2.1" stroke-linejoin="miter"/><line x1="283.0" y1="774.3" x2="283.0" y2="771.5" stroke="#E8920E" stroke-width="2.1"/><polyline points="278.2,779.4 283.0,771.5 287.8,779.4" fill="none" stroke="#E8920E" stroke-width="2.1" stroke-linejoin="miter"/><line x1="284.4" y1="753.9" x2="284.4" y2="751.9" stroke="#E8920E" stroke-width="2.1"/><polyline points="279.6,759.8 284.4,751.9 289.2,759.8" fill="none" stroke="#E8920E" stroke-width="2.1" stroke-linejoin="miter"/><line x1="259.8" y1="761.0" x2="259.8" y2="736.4" stroke="#E8920E" stroke-width="2.1"/><polyline points="254.3,745.4 259.8,736.4 265.3,745.4" fill="none" stroke="#E8920E" stroke-width="2.1" stroke-linejoin="miter"/><line x1="267.6" y1="751.8" x2="267.6" y2="749.8" stroke="#E8920E" stroke-width="2.1"/><polyline points="262.8,757.7 267.6,749.8 272.4,757.7" fill="none" stroke="#E8920E" stroke-width="2.1" stroke-linejoin="miter"/><line x1="274.6" y1="762.4" x2="274.6" y2="742.0" stroke="#E8920E" stroke-width="2.1"/><polyline points="269.1,751.0 274.6,742.0 280.1,751.0" fill="none" stroke="#E8920E" stroke-width="2.1" stroke-linejoin="miter"/><line x1="299.9" y1="762.0" x2="299.9" y2="755.4" stroke="#E8920E" stroke-width="2.1"/><polyline points="294.9,763.7 299.9,755.4 304.9,763.7" fill="none" stroke="#E8920E" stroke-width="2.1" stroke-linejoin="miter"/><line x1="318.1" y1="776.5" x2="318.1" y2="761.7" stroke="#E8920E" stroke-width="2.1"/><polyline points="312.7,770.7 318.1,761.7 323.5,770.7" fill="none" stroke="#E8920E" stroke-width="2.1" stroke-linejoin="miter"/><line x1="342.7" y1="758.1" x2="342.7" y2="756.1" stroke="#E8920E" stroke-width="2.1"/><polyline points="337.9,764.0 342.7,756.1 347.5,764.0" fill="none" stroke="#E8920E" stroke-width="2.1" stroke-linejoin="miter"/><line x1="227.5" y1="736.4" x2="227.5" y2="751.9" stroke="#E8920E" stroke-width="2.1"/><polyline points="222.0,742.9 227.5,751.9 233.0,742.9" fill="none" stroke="#E8920E" stroke-width="2.1" stroke-linejoin="miter"/><line x1="229.6" y1="781.4" x2="229.6" y2="761.7" stroke="#E8920E" stroke-width="2.1"/><polyline points="224.1,770.7 229.6,761.7 235.1,770.7" fill="none" stroke="#E8920E" stroke-width="2.1" stroke-linejoin="miter"/><line x1="235.3" y1="759.6" x2="235.3" y2="737.8" stroke="#E8920E" stroke-width="2.1"/><polyline points="229.8,746.8 235.3,737.8 240.8,746.8" fill="none" stroke="#E8920E" stroke-width="2.1" stroke-linejoin="miter"/><line x1="288.6" y1="740.0" x2="288.6" y2="742.0" stroke="#E8920E" stroke-width="2.1"/><polyline points="283.8,734.1 288.6,742.0 293.4,734.1" fill="none" stroke="#E8920E" stroke-width="2.1" stroke-linejoin="miter"/><line x1="305.5" y1="745.4" x2="305.5" y2="743.4" stroke="#E8920E" stroke-width="2.1"/><polyline points="300.7,751.3 305.5,743.4 310.3,751.3" fill="none" stroke="#E8920E" stroke-width="2.1" stroke-linejoin="miter"/><line x1="332.2" y1="749.1" x2="332.2" y2="733.6" stroke="#E8920E" stroke-width="2.1"/><polyline points="326.7,742.6 332.2,733.6 337.7,742.6" fill="none" stroke="#E8920E" stroke-width="2.1" stroke-linejoin="miter"/><line x1="319.5" y1="751.9" x2="319.5" y2="730.8" stroke="#E8920E" stroke-width="2.1"/><polyline points="314.0,739.8 319.5,730.8 325.0,739.8" fill="none" stroke="#E8920E" stroke-width="2.1" stroke-linejoin="miter"/><line x1="219.8" y1="742.2" x2="219.8" y2="744.2" stroke="#E8920E" stroke-width="2.1"/><polyline points="215.0,736.3 219.8,744.2 224.6,736.3" fill="none" stroke="#E8920E" stroke-width="2.1" stroke-linejoin="miter"/><line x1="348.2" y1="745.6" x2="348.2" y2="747.6" stroke="#E8920E" stroke-width="2.1"/><polyline points="343.4,739.7 348.2,747.6 353.0,739.7" fill="none" stroke="#E8920E" stroke-width="2.1" stroke-linejoin="miter"/><line x1="363.7" y1="822.0" x2="363.7" y2="773.6" stroke="#E8920E" stroke-width="2.1"/><polyline points="358.2,782.6 363.7,773.6 369.2,782.6" fill="none" stroke="#E8920E" stroke-width="2.1" stroke-linejoin="miter"/><line x1="350.3" y1="819.0" x2="350.3" y2="786.2" stroke="#E8920E" stroke-width="2.1"/><polyline points="344.8,795.2 350.3,786.2 355.8,795.2" fill="none" stroke="#E8920E" stroke-width="2.1" stroke-linejoin="miter"/><line x1="395.9" y1="783.4" x2="395.9" y2="768.7" stroke="#E8920E" stroke-width="2.1"/><polyline points="390.5,777.7 395.9,768.7 401.3,777.7" fill="none" stroke="#E8920E" stroke-width="2.1" stroke-linejoin="miter"/><line x1="400.9" y1="817.8" x2="400.9" y2="824.1" stroke="#E8920E" stroke-width="2.1"/><polyline points="395.9,815.9 400.9,824.1 405.9,815.9" fill="none" stroke="#E8920E" stroke-width="2.1" stroke-linejoin="miter"/><line x1="197.1" y1="653.1" x2="197.1" y2="651.1" stroke="#E8920E" stroke-width="2.1"/><polyline points="192.3,659.0 197.1,651.1 201.9,659.0" fill="none" stroke="#E8920E" stroke-width="2.1" stroke-linejoin="miter"/><line x1="258.7" y1="673.9" x2="258.7" y2="675.9" stroke="#E8920E" stroke-width="2.1"/><polyline points="253.9,668.0 258.7,675.9 263.5,668.0" fill="none" stroke="#E8920E" stroke-width="2.1" stroke-linejoin="miter"/><line x1="183.4" y1="681.4" x2="183.4" y2="679.4" stroke="#E8920E" stroke-width="2.1"/><polyline points="178.6,687.3 183.4,679.4 188.2,687.3" fill="none" stroke="#E8920E" stroke-width="2.1" stroke-linejoin="miter"/><line x1="189.4" y1="684.2" x2="189.4" y2="686.2" stroke="#E8920E" stroke-width="2.1"/><polyline points="184.6,678.3 189.4,686.2 194.2,678.3" fill="none" stroke="#E8920E" stroke-width="2.1" stroke-linejoin="miter"/><line x1="182.6" y1="697.6" x2="182.6" y2="695.6" stroke="#E8920E" stroke-width="2.1"/><polyline points="177.8,703.5 182.6,695.6 187.4,703.5" fill="none" stroke="#E8920E" stroke-width="2.1" stroke-linejoin="miter"/><line x1="241.6" y1="688.5" x2="241.6" y2="690.5" stroke="#E8920E" stroke-width="2.1"/><polyline points="236.8,682.6 241.6,690.5 246.4,682.6" fill="none" stroke="#E8920E" stroke-width="2.1" stroke-linejoin="miter"/><line x1="241.6" y1="708.7" x2="241.6" y2="706.7" stroke="#E8920E" stroke-width="2.1"/><polyline points="236.8,714.6 241.6,706.7 246.4,714.6" fill="none" stroke="#E8920E" stroke-width="2.1" stroke-linejoin="miter"/><line x1="234.7" y1="704.2" x2="234.7" y2="714.4" stroke="#E8920E" stroke-width="2.1"/><polyline points="229.5,705.8 234.7,714.4 239.9,705.8" fill="none" stroke="#E8920E" stroke-width="2.1" stroke-linejoin="miter"/><line x1="233.0" y1="646.4" x2="233.0" y2="658.0" stroke="#E8920E" stroke-width="2.1"/><polyline points="227.7,649.3 233.0,658.0 238.3,649.3" fill="none" stroke="#E8920E" stroke-width="2.1" stroke-linejoin="miter"/><line x1="249.3" y1="640.4" x2="249.3" y2="652.0" stroke="#E8920E" stroke-width="2.1"/><polyline points="244.0,643.3 249.3,652.0 254.6,643.3" fill="none" stroke="#E8920E" stroke-width="2.1" stroke-linejoin="miter"/><line x1="283.1" y1="656.3" x2="283.1" y2="651.1" stroke="#E8920E" stroke-width="2.1"/><polyline points="278.1,659.2 283.1,651.1 288.1,659.2" fill="none" stroke="#E8920E" stroke-width="2.1" stroke-linejoin="miter"/><line x1="285.7" y1="679.6" x2="285.7" y2="677.6" stroke="#E8920E" stroke-width="2.1"/><polyline points="280.9,685.5 285.7,677.6 290.5,685.5" fill="none" stroke="#E8920E" stroke-width="2.1" stroke-linejoin="miter"/><line x1="296.8" y1="705.6" x2="296.8" y2="707.6" stroke="#E8920E" stroke-width="2.1"/><polyline points="292.0,699.7 296.8,707.6 301.6,699.7" fill="none" stroke="#E8920E" stroke-width="2.1" stroke-linejoin="miter"/><line x1="299.3" y1="713.0" x2="299.3" y2="711.0" stroke="#E8920E" stroke-width="2.1"/><polyline points="294.5,718.9 299.3,711.0 304.1,718.9" fill="none" stroke="#E8920E" stroke-width="2.1" stroke-linejoin="miter"/><line x1="268.1" y1="652.4" x2="268.1" y2="688.0" stroke="#E8920E" stroke-width="2.1"/><polyline points="262.6,679.0 268.1,688.0 273.6,679.0" fill="none" stroke="#E8920E" stroke-width="2.1" stroke-linejoin="miter"/><line x1="337.5" y1="691.1" x2="337.5" y2="689.1" stroke="#E8920E" stroke-width="2.1"/><polyline points="332.7,697.0 337.5,689.1 342.3,697.0" fill="none" stroke="#E8920E" stroke-width="2.1" stroke-linejoin="miter"/><line x1="335.0" y1="716.2" x2="335.0" y2="718.2" stroke="#E8920E" stroke-width="2.1"/><polyline points="330.2,710.3 335.0,718.2 339.8,710.3" fill="none" stroke="#E8920E" stroke-width="2.1" stroke-linejoin="miter"/><line x1="288.1" y1="727.3" x2="288.1" y2="707.1" stroke="#E8920E" stroke-width="2.1"/><polyline points="282.6,716.1 288.1,707.1 293.6,716.1" fill="none" stroke="#E8920E" stroke-width="2.1" stroke-linejoin="miter"/><line x1="311.0" y1="733.7" x2="311.0" y2="730.7" stroke="#E8920E" stroke-width="2.1"/><polyline points="306.2,738.7 311.0,730.7 315.8,738.7" fill="none" stroke="#E8920E" stroke-width="2.1" stroke-linejoin="miter"/><line x1="289.5" y1="768.9" x2="289.5" y2="766.9" stroke="#E8920E" stroke-width="2.1"/><polyline points="284.7,774.8 289.5,766.9 294.3,774.8" fill="none" stroke="#E8920E" stroke-width="2.1" stroke-linejoin="miter"/><line x1="325.6" y1="760.6" x2="325.6" y2="745.0" stroke="#E8920E" stroke-width="2.1"/><polyline points="320.1,754.0 325.6,745.0 331.1,754.0" fill="none" stroke="#E8920E" stroke-width="2.1" stroke-linejoin="miter"/><line x1="195.7" y1="668.7" x2="195.7" y2="665.7" stroke="#E8920E" stroke-width="2.1"/><polyline points="190.9,673.7 195.7,665.7 200.5,673.7" fill="none" stroke="#E8920E" stroke-width="2.1" stroke-linejoin="miter"/><line x1="195.1" y1="680.3" x2="195.1" y2="683.3" stroke="#E8920E" stroke-width="2.1"/><polyline points="190.3,675.3 195.1,683.3 199.9,675.3" fill="none" stroke="#E8920E" stroke-width="2.1" stroke-linejoin="miter"/><line x1="203.2" y1="688.5" x2="203.2" y2="685.5" stroke="#E8920E" stroke-width="2.1"/><polyline points="198.4,693.5 203.2,685.5 208.0,693.5" fill="none" stroke="#E8920E" stroke-width="2.1" stroke-linejoin="miter"/><line x1="210.6" y1="684.1" x2="210.6" y2="687.1" stroke="#E8920E" stroke-width="2.1"/><polyline points="205.8,679.1 210.6,687.1 215.4,679.1" fill="none" stroke="#E8920E" stroke-width="2.1" stroke-linejoin="miter"/><line x1="172.7" y1="692.8" x2="172.7" y2="689.8" stroke="#E8920E" stroke-width="2.1"/><polyline points="167.9,697.8 172.7,689.8 177.5,697.8" fill="none" stroke="#E8920E" stroke-width="2.1" stroke-linejoin="miter"/><line x1="194.6" y1="691.0" x2="194.6" y2="694.0" stroke="#E8920E" stroke-width="2.1"/><polyline points="189.8,686.0 194.6,694.0 199.4,686.0" fill="none" stroke="#E8920E" stroke-width="2.1" stroke-linejoin="miter"/><line x1="207.4" y1="695.4" x2="207.4" y2="692.4" stroke="#E8920E" stroke-width="2.1"/><polyline points="202.6,700.4 207.4,692.4 212.2,700.4" fill="none" stroke="#E8920E" stroke-width="2.1" stroke-linejoin="miter"/><line x1="208.5" y1="698.0" x2="208.5" y2="701.0" stroke="#E8920E" stroke-width="2.1"/><polyline points="203.7,693.0 208.5,701.0 213.3,693.0" fill="none" stroke="#E8920E" stroke-width="2.1" stroke-linejoin="miter"/><line x1="171.1" y1="698.0" x2="171.1" y2="701.0" stroke="#E8920E" stroke-width="2.1"/><polyline points="166.3,693.0 171.1,701.0 175.9,693.0" fill="none" stroke="#E8920E" stroke-width="2.1" stroke-linejoin="miter"/><line x1="198.9" y1="640.0" x2="198.9" y2="664.0" stroke="#E8920E" stroke-width="2.1"/><polyline points="193.4,655.0 198.9,664.0 204.4,655.0" fill="none" stroke="#E8920E" stroke-width="2.1" stroke-linejoin="miter"/><line x1="233.3" y1="723.2" x2="233.3" y2="721.2" stroke="#E8920E" stroke-width="2.1"/><polyline points="228.5,729.1 233.3,721.2 238.1,729.1" fill="none" stroke="#E8920E" stroke-width="2.1" stroke-linejoin="miter"/><line x1="210.3" y1="744.6" x2="210.3" y2="742.6" stroke="#E8920E" stroke-width="2.1"/><polyline points="205.5,750.5 210.3,742.6 215.1,750.5" fill="none" stroke="#E8920E" stroke-width="2.1" stroke-linejoin="miter"/><line x1="225.3" y1="737.2" x2="225.3" y2="745.0" stroke="#E8920E" stroke-width="2.1"/><polyline points="220.2,736.6 225.3,745.0 230.4,736.6" fill="none" stroke="#E8920E" stroke-width="2.1" stroke-linejoin="miter"/><line x1="126.8" y1="696.2" x2="126.8" y2="704.5" stroke="#E8920E" stroke-width="2.1"/><polyline points="121.7,696.1 126.8,704.5 131.9,696.1" fill="none" stroke="#E8920E" stroke-width="2.1" stroke-linejoin="miter"/><line x1="302.0" y1="703.8" x2="302.0" y2="705.8" stroke="#E8920E" stroke-width="2.1"/><polyline points="297.2,697.9 302.0,705.8 306.8,697.9" fill="none" stroke="#E8920E" stroke-width="2.1" stroke-linejoin="miter"/></g><g clip-path="url(#cAR)"><circle cx="819.5" cy="135.4" r="3.8" fill="#000"/><circle cx="574.6" cy="352.3" r="3.8" fill="#000"/><circle cx="560.1" cy="374.3" r="3.8" fill="#000"/><circle cx="610.6" cy="383.3" r="3.8" fill="#000"/><circle cx="595.6" cy="393.6" r="3.8" fill="#000"/><circle cx="617.8" cy="357.2" r="3.8" fill="#000"/><circle cx="609.7" cy="371.8" r="3.8" fill="#000"/><circle cx="613.1" cy="366.2" r="3.8" fill="#000"/><circle cx="609.3" cy="362.3" r="3.8" fill="#000"/><circle cx="593.5" cy="343.5" r="3.8" fill="#000"/><circle cx="595.6" cy="347.4" r="3.8" fill="#000"/><circle cx="603.3" cy="336.3" r="3.8" fill="#000"/><circle cx="608.4" cy="332.0" r="3.8" fill="#000"/><circle cx="617.8" cy="328.6" r="3.8" fill="#000"/><circle cx="605.0" cy="344.0" r="3.8" fill="#000"/><circle cx="607.6" cy="352.5" r="3.8" fill="#000"/><circle cx="605.0" cy="355.9" r="3.8" fill="#000"/><circle cx="599.9" cy="352.5" r="3.8" fill="#000"/><circle cx="596.5" cy="354.2" r="3.8" fill="#000"/><circle cx="599.0" cy="361.1" r="3.8" fill="#000"/><circle cx="599.9" cy="365.3" r="3.8" fill="#000"/><circle cx="595.6" cy="367.9" r="3.8" fill="#000"/><circle cx="598.2" cy="373.9" r="3.8" fill="#000"/><circle cx="593.0" cy="373.0" r="3.8" fill="#000"/><circle cx="591.3" cy="366.2" r="3.8" fill="#000"/><circle cx="593.0" cy="361.1" r="3.8" fill="#000"/><circle cx="587.9" cy="357.6" r="3.8" fill="#000"/><circle cx="584.5" cy="355.9" r="3.8" fill="#000"/><circle cx="581.1" cy="359.4" r="3.8" fill="#000"/><circle cx="586.2" cy="362.8" r="3.8" fill="#000"/><circle cx="578.5" cy="364.5" r="3.8" fill="#000"/><circle cx="574.2" cy="367.9" r="3.8" fill="#000"/><circle cx="573.4" cy="371.3" r="3.8" fill="#000"/><circle cx="569.9" cy="374.7" r="3.8" fill="#000"/><circle cx="567.4" cy="379.9" r="3.8" fill="#000"/><circle cx="571.7" cy="379.9" r="3.8" fill="#000"/><circle cx="576.8" cy="374.0" r="3.8" fill="#000"/><circle cx="580.2" cy="369.6" r="3.8" fill="#000"/><circle cx="584.5" cy="369.6" r="3.8" fill="#000"/><circle cx="587.9" cy="373.0" r="3.8" fill="#000"/><circle cx="582.8" cy="376.5" r="3.8" fill="#000"/><circle cx="578.5" cy="381.6" r="3.8" fill="#000"/><circle cx="582.8" cy="385.0" r="3.8" fill="#000"/><circle cx="587.0" cy="384.2" r="3.8" fill="#000"/><circle cx="593.0" cy="384.2" r="3.8" fill="#000"/><circle cx="575.9" cy="387.6" r="3.8" fill="#000"/><circle cx="570.8" cy="391.9" r="3.8" fill="#000"/><circle cx="565.7" cy="392.7" r="3.8" fill="#000"/><circle cx="559.7" cy="384.2" r="3.8" fill="#000"/><circle cx="555.4" cy="388.4" r="3.8" fill="#000"/><circle cx="548.6" cy="392.7" r="3.8" fill="#000"/><circle cx="558.0" cy="397.0" r="3.8" fill="#000"/><circle cx="545.1" cy="397.0" r="3.8" fill="#000"/><circle cx="686.8" cy="259.5" r="3.8" fill="#000"/><circle cx="671.9" cy="274.4" r="3.8" fill="#000"/><circle cx="727.2" cy="281.2" r="3.8" fill="#000"/><circle cx="686.5" cy="286.4" r="3.8" fill="#000"/><circle cx="662.1" cy="290.6" r="3.8" fill="#000"/><circle cx="651.6" cy="298.4" r="3.8" fill="#000"/><circle cx="653.9" cy="302.1" r="3.8" fill="#000"/><circle cx="659.9" cy="300.3" r="3.8" fill="#000"/><circle cx="673.4" cy="307.4" r="3.8" fill="#000"/><circle cx="680.1" cy="314.9" r="3.8" fill="#000"/><circle cx="652.4" cy="315.3" r="3.8" fill="#000"/><circle cx="667.4" cy="321.6" r="3.8" fill="#000"/><circle cx="687.6" cy="332.1" r="3.8" fill="#000"/><circle cx="635.9" cy="308.9" r="3.8" fill="#000"/><circle cx="627.7" cy="313.4" r="3.8" fill="#000"/><circle cx="629.9" cy="315.6" r="3.8" fill="#000"/><circle cx="626.9" cy="322.3" r="3.8" fill="#000"/><circle cx="628.4" cy="329.8" r="3.8" fill="#000"/><circle cx="635.9" cy="328.3" r="3.8" fill="#000"/><circle cx="639.7" cy="326.8" r="3.8" fill="#000"/><circle cx="646.4" cy="329.8" r="3.8" fill="#000"/><circle cx="643.4" cy="328.3" r="3.8" fill="#000"/><circle cx="621.0" cy="335.8" r="3.8" fill="#000"/><circle cx="609.0" cy="338.8" r="3.8" fill="#000"/><circle cx="626.9" cy="341.8" r="3.8" fill="#000"/><circle cx="632.9" cy="340.3" r="3.8" fill="#000"/><circle cx="622.5" cy="347.0" r="3.8" fill="#000"/><circle cx="639.7" cy="353.0" r="3.8" fill="#000"/><circle cx="522.9" cy="468.1" r="3.8" fill="#000"/><circle cx="517.7" cy="433.2" r="3.8" fill="#000"/><circle cx="516.1" cy="423.1" r="3.8" fill="#000"/><circle cx="522.9" cy="418.4" r="3.8" fill="#000"/><circle cx="526.0" cy="421.6" r="3.8" fill="#000"/><circle cx="530.1" cy="418.4" r="3.8" fill="#000"/><circle cx="534.8" cy="414.8" r="3.8" fill="#000"/><circle cx="533.2" cy="404.9" r="3.8" fill="#000"/><circle cx="538.4" cy="399.7" r="3.8" fill="#000"/><circle cx="537.4" cy="406.0" r="3.8" fill="#000"/><circle cx="541.6" cy="403.9" r="3.8" fill="#000"/><circle cx="545.7" cy="401.8" r="3.8" fill="#000"/><circle cx="542.6" cy="411.2" r="3.8" fill="#000"/><circle cx="541.6" cy="416.4" r="3.8" fill="#000"/><circle cx="540.5" cy="428.3" r="3.8" fill="#000"/><circle cx="544.7" cy="426.8" r="3.8" fill="#000"/><circle cx="549.9" cy="415.3" r="3.8" fill="#000"/><circle cx="549.9" cy="408.1" r="3.8" fill="#000"/><circle cx="559.2" cy="402.3" r="3.8" fill="#000"/><circle cx="558.2" cy="412.2" r="3.8" fill="#000"/><circle cx="557.1" cy="420.5" r="3.8" fill="#000"/><circle cx="567.5" cy="386.2" r="3.8" fill="#000"/><circle cx="537.4" cy="409.8" r="3.8" fill="#000"/><circle cx="582.3" cy="364.9" r="3.8" fill="#000"/><circle cx="589.8" cy="376.9" r="3.8" fill="#000"/><circle cx="604.8" cy="349.9" r="3.8" fill="#000"/><circle cx="613.8" cy="341.0" r="3.8" fill="#000"/><circle cx="622.0" cy="371.6" r="3.8" fill="#000"/><circle cx="603.3" cy="419.6" r="3.8" fill="#000"/></g><g clip-path="url(#cBR)"><circle cx="741.4" cy="503.4" r="3.8" fill="#000"/><circle cx="526.2" cy="728.3" r="3.8" fill="#000"/><circle cx="513.6" cy="773.7" r="3.8" fill="#000"/><circle cx="516.6" cy="786.8" r="3.8" fill="#000"/><circle cx="484.9" cy="794.7" r="3.8" fill="#000"/><circle cx="504.4" cy="810.5" r="3.8" fill="#000"/><circle cx="523.6" cy="818.8" r="3.8" fill="#000"/><circle cx="517.5" cy="824.6" r="3.8" fill="#000"/><circle cx="537.8" cy="797.7" r="3.8" fill="#000"/><circle cx="547.4" cy="791.2" r="3.8" fill="#000"/><circle cx="557.9" cy="786.1" r="3.8" fill="#000"/><circle cx="563.4" cy="781.4" r="3.8" fill="#000"/><circle cx="571.8" cy="777.8" r="3.8" fill="#000"/><circle cx="553.2" cy="751.5" r="3.8" fill="#000"/><circle cx="558.0" cy="731.3" r="3.8" fill="#000"/><circle cx="549.3" cy="768.1" r="3.8" fill="#000"/><circle cx="555.7" cy="772.6" r="3.8" fill="#000"/><circle cx="553.8" cy="777.1" r="3.8" fill="#000"/><circle cx="562.2" cy="768.8" r="3.8" fill="#000"/><circle cx="567.9" cy="762.4" r="3.8" fill="#000"/><circle cx="564.7" cy="753.4" r="3.8" fill="#000"/><circle cx="569.9" cy="752.7" r="3.8" fill="#000"/><circle cx="575.0" cy="756.6" r="3.8" fill="#000"/><circle cx="582.7" cy="761.7" r="3.8" fill="#000"/><circle cx="571.8" cy="743.7" r="3.8" fill="#000"/><circle cx="574.4" cy="737.3" r="3.8" fill="#000"/><circle cx="575.6" cy="729.0" r="3.8" fill="#000"/><circle cx="582.1" cy="726.4" r="3.8" fill="#000"/><circle cx="585.3" cy="734.8" r="3.8" fill="#000"/><circle cx="579.5" cy="746.3" r="3.8" fill="#000"/><circle cx="586.5" cy="750.2" r="3.8" fill="#000"/><circle cx="596.2" cy="744.4" r="3.8" fill="#000"/><circle cx="596.8" cy="755.9" r="3.8" fill="#000"/><circle cx="598.7" cy="732.2" r="3.8" fill="#000"/><circle cx="562.2" cy="720.6" r="3.8" fill="#000"/><circle cx="724.4" cy="578.0" r="3.8" fill="#000"/><circle cx="747.0" cy="578.0" r="3.8" fill="#000"/><circle cx="760.4" cy="579.3" r="3.8" fill="#000"/><circle cx="709.4" cy="588.0" r="3.8" fill="#000"/><circle cx="732.5" cy="592.7" r="3.8" fill="#000"/><circle cx="749.9" cy="590.2" r="3.8" fill="#000"/><circle cx="755.0" cy="594.0" r="3.8" fill="#000"/><circle cx="764.6" cy="594.4" r="3.8" fill="#000"/><circle cx="767.2" cy="598.5" r="3.8" fill="#000"/><circle cx="713.7" cy="598.8" r="3.8" fill="#000"/><circle cx="686.3" cy="601.7" r="3.8" fill="#000"/><circle cx="695.9" cy="606.5" r="3.8" fill="#000"/><circle cx="724.6" cy="617.8" r="3.8" fill="#000"/><circle cx="735.7" cy="627.0" r="3.8" fill="#000"/><circle cx="713.9" cy="626.1" r="3.8" fill="#000"/><circle cx="719.0" cy="631.2" r="3.8" fill="#000"/><circle cx="725.5" cy="630.0" r="3.8" fill="#000"/><circle cx="710.1" cy="634.5" r="3.8" fill="#000"/><circle cx="703.6" cy="629.3" r="3.8" fill="#000"/><circle cx="691.5" cy="628.7" r="3.8" fill="#000"/><circle cx="721.0" cy="642.2" r="3.8" fill="#000"/><circle cx="681.8" cy="644.1" r="3.8" fill="#000"/><circle cx="676.7" cy="647.3" r="3.8" fill="#000"/><circle cx="669.6" cy="651.1" r="3.8" fill="#000"/><circle cx="663.2" cy="653.7" r="3.8" fill="#000"/><circle cx="689.5" cy="653.7" r="3.8" fill="#000"/><circle cx="698.5" cy="653.7" r="3.8" fill="#000"/><circle cx="694.0" cy="658.8" r="3.8" fill="#000"/><circle cx="697.2" cy="657.6" r="3.8" fill="#000"/><circle cx="679.3" cy="659.5" r="3.8" fill="#000"/><circle cx="688.2" cy="671.7" r="3.8" fill="#000"/><circle cx="671.6" cy="674.9" r="3.8" fill="#000"/><circle cx="663.9" cy="664.0" r="3.8" fill="#000"/><circle cx="665.1" cy="670.4" r="3.8" fill="#000"/><circle cx="594.8" cy="697.3" r="3.8" fill="#000"/><circle cx="600.2" cy="705.0" r="3.8" fill="#000"/><circle cx="605.5" cy="711.4" r="3.8" fill="#000"/><circle cx="591.6" cy="718.3" r="3.8" fill="#000"/><circle cx="601.2" cy="722.6" r="3.8" fill="#000"/><circle cx="603.4" cy="732.2" r="3.8" fill="#000"/><circle cx="609.8" cy="724.8" r="3.8" fill="#000"/><circle cx="614.1" cy="726.9" r="3.8" fill="#000"/><circle cx="614.1" cy="717.8" r="3.8" fill="#000"/><circle cx="617.8" cy="734.9" r="3.8" fill="#000"/><circle cx="609.3" cy="742.9" r="3.8" fill="#000"/><circle cx="595.9" cy="748.3" r="3.8" fill="#000"/><circle cx="618.9" cy="722.1" r="3.8" fill="#000"/><circle cx="619.9" cy="710.3" r="3.8" fill="#000"/><circle cx="615.7" cy="703.4" r="3.8" fill="#000"/><circle cx="623.2" cy="699.6" r="3.8" fill="#000"/><circle cx="624.2" cy="691.6" r="3.8" fill="#000"/><circle cx="626.4" cy="721.0" r="3.8" fill="#000"/><circle cx="629.6" cy="712.5" r="3.8" fill="#000"/><circle cx="636.0" cy="721.6" r="3.8" fill="#000"/><circle cx="638.1" cy="714.1" r="3.8" fill="#000"/><circle cx="634.9" cy="703.9" r="3.8" fill="#000"/><circle cx="632.8" cy="694.3" r="3.8" fill="#000"/><circle cx="639.2" cy="699.6" r="3.8" fill="#000"/><circle cx="645.1" cy="709.3" r="3.8" fill="#000"/><circle cx="649.9" cy="701.8" r="3.8" fill="#000"/><circle cx="647.8" cy="695.3" r="3.8" fill="#000"/><circle cx="656.3" cy="697.0" r="3.8" fill="#000"/><circle cx="668.6" cy="697.0" r="3.8" fill="#000"/><circle cx="680.4" cy="696.4" r="3.8" fill="#000"/><circle cx="641.3" cy="691.1" r="3.8" fill="#000"/><circle cx="630.6" cy="703.9" r="3.8" fill="#000"/><circle cx="622.1" cy="716.7" r="3.8" fill="#000"/><circle cx="599.5" cy="618.0" r="3.8" fill="#000"/><circle cx="606.5" cy="667.0" r="3.8" fill="#000"/><circle cx="600.8" cy="677.4" r="3.8" fill="#000"/><circle cx="585.7" cy="688.6" r="3.8" fill="#000"/><circle cx="585.7" cy="711.0" r="3.8" fill="#000"/><circle cx="561.9" cy="718.1" r="3.8" fill="#000"/><circle cx="615.8" cy="678.9" r="3.8" fill="#000"/><circle cx="623.2" cy="676.0" r="3.8" fill="#000"/><circle cx="625.5" cy="680.2" r="3.8" fill="#000"/><circle cx="631.9" cy="684.7" r="3.8" fill="#000"/><circle cx="638.3" cy="686.0" r="3.8" fill="#000"/><circle cx="637.0" cy="695.0" r="3.8" fill="#000"/><circle cx="631.9" cy="700.1" r="3.8" fill="#000"/><circle cx="643.4" cy="697.6" r="3.8" fill="#000"/><circle cx="649.9" cy="689.9" r="3.8" fill="#000"/><circle cx="644.7" cy="675.7" r="3.8" fill="#000"/><circle cx="649.9" cy="673.2" r="3.8" fill="#000"/><circle cx="649.9" cy="663.5" r="3.8" fill="#000"/><circle cx="655.0" cy="670.0" r="3.8" fill="#000"/><circle cx="657.6" cy="682.2" r="3.8" fill="#000"/><circle cx="655.0" cy="691.1" r="3.8" fill="#000"/><circle cx="662.7" cy="686.0" r="3.8" fill="#000"/><circle cx="666.5" cy="687.3" r="3.8" fill="#000"/><circle cx="661.4" cy="675.7" r="3.8" fill="#000"/><circle cx="665.3" cy="666.8" r="3.8" fill="#000"/><circle cx="661.4" cy="662.9" r="3.8" fill="#000"/><circle cx="655.0" cy="650.7" r="3.8" fill="#000"/><circle cx="655.6" cy="656.5" r="3.8" fill="#000"/><circle cx="678.1" cy="644.9" r="3.8" fill="#000"/></g><line x1="105.0" y1="323.4" x2="457.0" y2="323.4" stroke="#000" stroke-width="2.4" stroke-dasharray="0 7.93" stroke-linecap="round"/><line x1="105.0" y1="436.3" x2="457.0" y2="436.3" stroke="#000" stroke-width="2.4" stroke-dasharray="0 7.93" stroke-linecap="round"/><line x1="481.0" y1="323.4" x2="833.0" y2="323.4" stroke="#000" stroke-width="2.4" stroke-dasharray="0 7.93" stroke-linecap="round"/><line x1="481.0" y1="436.3" x2="833.0" y2="436.3" stroke="#000" stroke-width="2.4" stroke-dasharray="0 7.93" stroke-linecap="round"/><line x1="519.0" y1="125.4" x2="519.0" y2="482.0" stroke="#000" stroke-width="2.4" stroke-dasharray="0 7.93" stroke-linecap="round"/><line x1="629.8" y1="125.4" x2="629.8" y2="482.0" stroke="#000" stroke-width="2.4" stroke-dasharray="0 7.93" stroke-linecap="round"/><line x1="105.0" y1="786.0" x2="457.0" y2="786.0" stroke="#000" stroke-width="2.4" stroke-dasharray="0 7.93" stroke-linecap="round"/><line x1="481.0" y1="786.0" x2="833.0" y2="786.0" stroke="#000" stroke-width="2.4" stroke-dasharray="0 7.93" stroke-linecap="round"/><line x1="548.8" y1="506.4" x2="548.8" y2="863.0" stroke="#000" stroke-width="2.4" stroke-dasharray="0 7.93" stroke-linecap="round"/><g clip-path="url(#cAR)"><line x1="473.0" y1="482.0" x2="833.0" y2="117.0" stroke="#BA1539" stroke-width="1.55"/></g><g clip-path="url(#cBR)"><line x1="444.3" y1="892.2" x2="820.5" y2="511.7" stroke="#BA1539" stroke-width="1.55"/></g><rect x="97" y="117" width="360" height="365" fill="none" stroke="#000" stroke-width="1.9"/><rect x="473" y="117" width="360" height="365" fill="none" stroke="#000" stroke-width="1.9"/><rect x="97" y="498" width="360" height="365" fill="none" stroke="#000" stroke-width="1.9"/><rect x="473" y="498" width="360" height="365" fill="none" stroke="#000" stroke-width="1.9"/><line x1="110.7" y1="117.0" x2="110.7" y2="101.4" stroke="#000" stroke-width="1.9"/><line x1="110.7" y1="863.0" x2="110.7" y2="878.6" stroke="#000" stroke-width="1.9"/><line x1="164.0" y1="117.0" x2="164.0" y2="101.4" stroke="#000" stroke-width="1.9"/><line x1="164.0" y1="863.0" x2="164.0" y2="878.6" stroke="#000" stroke-width="1.9"/><line x1="217.3" y1="117.0" x2="217.3" y2="101.4" stroke="#000" stroke-width="1.9"/><line x1="217.3" y1="863.0" x2="217.3" y2="878.6" stroke="#000" stroke-width="1.9"/><line x1="270.6" y1="117.0" x2="270.6" y2="101.4" stroke="#000" stroke-width="1.9"/><line x1="270.6" y1="863.0" x2="270.6" y2="878.6" stroke="#000" stroke-width="1.9"/><line x1="323.9" y1="117.0" x2="323.9" y2="101.4" stroke="#000" stroke-width="1.9"/><line x1="323.9" y1="863.0" x2="323.9" y2="878.6" stroke="#000" stroke-width="1.9"/><line x1="377.2" y1="117.0" x2="377.2" y2="101.4" stroke="#000" stroke-width="1.9"/><line x1="377.2" y1="863.0" x2="377.2" y2="878.6" stroke="#000" stroke-width="1.9"/><line x1="430.5" y1="117.0" x2="430.5" y2="101.4" stroke="#000" stroke-width="1.9"/><line x1="430.5" y1="863.0" x2="430.5" y2="878.6" stroke="#000" stroke-width="1.9"/><text x="110.7" y="79.2" font-size="26.3" text-anchor="middle" font-weight="normal">60</text><text x="110.7" y="920.0" font-size="26.3" text-anchor="middle" font-weight="normal">60</text><text x="164.0" y="79.2" font-size="26.3" text-anchor="middle" font-weight="normal">80</text><text x="164.0" y="920.0" font-size="26.3" text-anchor="middle" font-weight="normal">80</text><text x="270.6" y="79.2" font-size="26.3" text-anchor="middle" font-weight="normal">120</text><text x="270.6" y="920.0" font-size="26.3" text-anchor="middle" font-weight="normal">120</text><text x="377.2" y="79.2" font-size="26.3" text-anchor="middle" font-weight="normal">160</text><text x="377.2" y="920.0" font-size="26.3" text-anchor="middle" font-weight="normal">160</text><line x1="97.0" y1="423.4" x2="81.4" y2="423.4" stroke="#000" stroke-width="1.9"/><line x1="833.0" y1="423.4" x2="848.6" y2="423.4" stroke="#000" stroke-width="1.9"/><text x="60.0" y="423.4" font-size="26.3" text-anchor="middle" font-weight="normal" transform="rotate(-90 60.0 423.4)">4</text><text x="890.5" y="423.4" font-size="26.3" text-anchor="middle" font-weight="normal" transform="rotate(-90 890.5 423.4)">4</text><line x1="531.7" y1="117.0" x2="531.7" y2="101.4" stroke="#000" stroke-width="1.9"/><text x="531.7" y="79.2" font-size="26.3" text-anchor="middle" font-weight="normal">4</text><line x1="97.0" y1="331.9" x2="81.4" y2="331.9" stroke="#000" stroke-width="1.9"/><line x1="833.0" y1="331.9" x2="848.6" y2="331.9" stroke="#000" stroke-width="1.9"/><text x="60.0" y="331.9" font-size="26.3" text-anchor="middle" font-weight="normal" transform="rotate(-90 60.0 331.9)">5</text><text x="890.5" y="331.9" font-size="26.3" text-anchor="middle" font-weight="normal" transform="rotate(-90 890.5 331.9)">5</text><line x1="621.5" y1="117.0" x2="621.5" y2="101.4" stroke="#000" stroke-width="1.9"/><text x="621.5" y="79.2" font-size="26.3" text-anchor="middle" font-weight="normal">5</text><line x1="97.0" y1="240.4" x2="81.4" y2="240.4" stroke="#000" stroke-width="1.9"/><line x1="833.0" y1="240.4" x2="848.6" y2="240.4" stroke="#000" stroke-width="1.9"/><text x="60.0" y="240.4" font-size="26.3" text-anchor="middle" font-weight="normal" transform="rotate(-90 60.0 240.4)">6</text><text x="890.5" y="240.4" font-size="26.3" text-anchor="middle" font-weight="normal" transform="rotate(-90 890.5 240.4)">6</text><line x1="711.3" y1="117.0" x2="711.3" y2="101.4" stroke="#000" stroke-width="1.9"/><text x="711.3" y="79.2" font-size="26.3" text-anchor="middle" font-weight="normal">6</text><line x1="97.0" y1="148.9" x2="81.4" y2="148.9" stroke="#000" stroke-width="1.9"/><line x1="833.0" y1="148.9" x2="848.6" y2="148.9" stroke="#000" stroke-width="1.9"/><text x="60.0" y="148.9" font-size="26.3" text-anchor="middle" font-weight="normal" transform="rotate(-90 60.0 148.9)">7</text><text x="890.5" y="148.9" font-size="26.3" text-anchor="middle" font-weight="normal" transform="rotate(-90 890.5 148.9)">7</text><line x1="801.1" y1="117.0" x2="801.1" y2="101.4" stroke="#000" stroke-width="1.9"/><text x="801.1" y="79.2" font-size="26.3" text-anchor="middle" font-weight="normal">7</text><line x1="97.0" y1="828.8" x2="81.4" y2="828.8" stroke="#000" stroke-width="1.9"/><line x1="833.0" y1="828.8" x2="848.6" y2="828.8" stroke="#000" stroke-width="1.9"/><text x="60.0" y="828.8" font-size="26.3" text-anchor="middle" font-weight="normal" transform="rotate(-90 60.0 828.8)">25</text><text x="890.5" y="828.8" font-size="26.3" text-anchor="middle" font-weight="normal" transform="rotate(-90 890.5 828.8)">25</text><line x1="507.0" y1="863.0" x2="507.0" y2="878.6" stroke="#000" stroke-width="1.9"/><text x="507.0" y="920.0" font-size="26.3" text-anchor="middle" font-weight="normal">25</text><line x1="97.0" y1="723.1" x2="81.4" y2="723.1" stroke="#000" stroke-width="1.9"/><line x1="833.0" y1="723.1" x2="848.6" y2="723.1" stroke="#000" stroke-width="1.9"/><text x="60.0" y="723.1" font-size="26.3" text-anchor="middle" font-weight="normal" transform="rotate(-90 60.0 723.1)">30</text><text x="890.5" y="723.1" font-size="26.3" text-anchor="middle" font-weight="normal" transform="rotate(-90 890.5 723.1)">30</text><line x1="611.5" y1="863.0" x2="611.5" y2="878.6" stroke="#000" stroke-width="1.9"/><text x="611.5" y="920.0" font-size="26.3" text-anchor="middle" font-weight="normal">30</text><line x1="97.0" y1="617.4" x2="81.4" y2="617.4" stroke="#000" stroke-width="1.9"/><line x1="833.0" y1="617.4" x2="848.6" y2="617.4" stroke="#000" stroke-width="1.9"/><text x="60.0" y="617.4" font-size="26.3" text-anchor="middle" font-weight="normal" transform="rotate(-90 60.0 617.4)">35</text><text x="890.5" y="617.4" font-size="26.3" text-anchor="middle" font-weight="normal" transform="rotate(-90 890.5 617.4)">35</text><line x1="716.0" y1="863.0" x2="716.0" y2="878.6" stroke="#000" stroke-width="1.9"/><text x="716.0" y="920.0" font-size="26.3" text-anchor="middle" font-weight="normal">35</text><line x1="97.0" y1="511.7" x2="81.4" y2="511.7" stroke="#000" stroke-width="1.9"/><line x1="833.0" y1="511.7" x2="848.6" y2="511.7" stroke="#000" stroke-width="1.9"/><text x="60.0" y="511.7" font-size="26.3" text-anchor="middle" font-weight="normal" transform="rotate(-90 60.0 511.7)">40</text><text x="890.5" y="511.7" font-size="26.3" text-anchor="middle" font-weight="normal" transform="rotate(-90 890.5 511.7)">40</text><line x1="820.5" y1="863.0" x2="820.5" y2="878.6" stroke="#000" stroke-width="1.9"/><text x="820.5" y="920.0" font-size="26.3" text-anchor="middle" font-weight="normal">40</text><text x="278.2" y="48.0" font-size="26.6" text-anchor="middle" font-weight="normal">Age (months)</text><text x="653.0" y="48.0" font-size="26.6" text-anchor="middle" font-weight="normal">K (mEq/L)</text><text x="278.2" y="951.5" font-size="26.6" text-anchor="middle" font-weight="normal">Age (months)</text><text x="653.0" y="951.5" font-size="26.6" text-anchor="middle" font-weight="normal">Na/K</text><text x="24.8" y="299.5" font-size="26.6" text-anchor="middle" font-weight="normal" transform="rotate(-90 24.8 299.5)">K (mEq/L)</text><text x="24.8" y="680.5" font-size="26.6" text-anchor="middle" font-weight="normal" transform="rotate(-90 24.8 680.5)">Na/K</text><text x="924.7" y="299.5" font-size="26.6" text-anchor="middle" font-weight="normal" transform="rotate(-90 924.7 299.5)">K (mEq/L) corrected</text><text x="924.7" y="680.5" font-size="26.6" text-anchor="middle" font-weight="normal" transform="rotate(-90 924.7 680.5)">Na/K corrected</text><text x="5.5" y="23.9" font-size="22" text-anchor="start" font-weight="bold">A</text><text x="6.0" y="498.2" font-size="21" text-anchor="start" font-weight="bold">B</text>
</svg></body></html>
